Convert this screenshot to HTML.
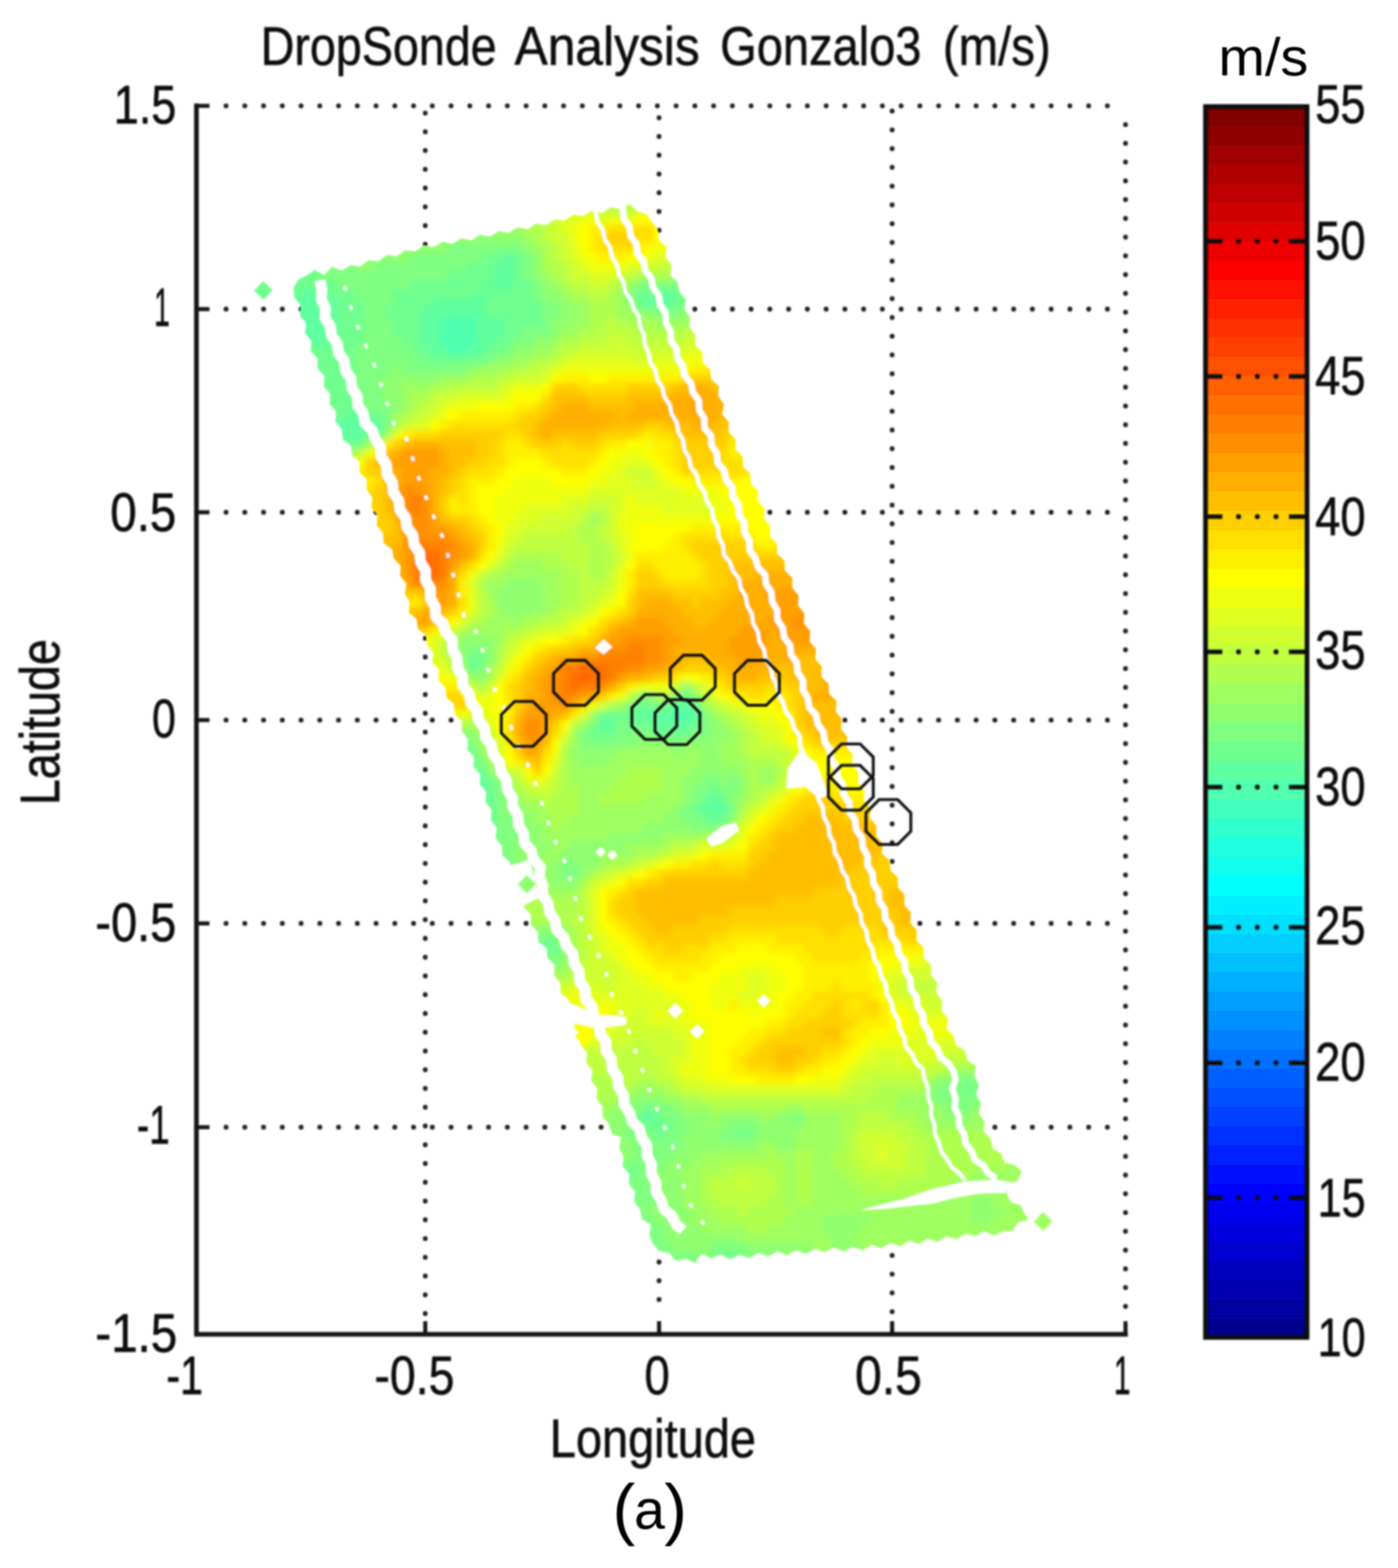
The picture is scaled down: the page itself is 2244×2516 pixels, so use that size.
<!DOCTYPE html>
<html lang="en"><head><meta charset="utf-8"><title>DropSonde Analysis Gonzalo3 (m/s)</title>
<style>
html,body{margin:0;padding:0;background:#fff;}
body{width:2244px;height:2516px;overflow:hidden;position:relative;}
svg{position:absolute;left:0;top:0;display:block;}
text{font-family:"Liberation Sans",sans-serif;font-size:80px;fill:#111;stroke:#111;stroke-width:0.9px;}
</style></head><body>
<svg width="2244" height="2516" viewBox="0 0 2244 2516">
<defs><filter id="b1" x="-5%" y="-5%" width="110%" height="110%"><feGaussianBlur stdDeviation="1.8"/></filter><filter id="b2" x="-20%" y="-20%" width="140%" height="140%"><feGaussianBlur stdDeviation="1.7"/></filter><filter id="b3" x="-20%" y="-20%" width="140%" height="140%"><feGaussianBlur stdDeviation="0.9"/></filter></defs>
<rect width="2244" height="2516" fill="#fff"/>
<g filter="url(#b1)" stroke="#222" fill="none">
<line x1="682.6" y1="181.3" x2="682.6" y2="2111.0" stroke-dasharray="0.1 30" stroke-linecap="round" stroke-width="7.8"/>
<line x1="1057.9" y1="188.8" x2="1057.9" y2="2111.0" stroke-dasharray="0.1 30" stroke-linecap="round" stroke-width="7.8"/>
<line x1="1432.0" y1="178.2" x2="1432.0" y2="2111.0" stroke-dasharray="0.1 30" stroke-linecap="round" stroke-width="7.8"/>
<line x1="1806.6" y1="199.8" x2="1806.6" y2="2111.0" stroke-dasharray="0.1 30" stroke-linecap="round" stroke-width="7.8"/>
<line x1="362.8" y1="169.8" x2="1806.6" y2="169.8" stroke-dasharray="0.1 30" stroke-linecap="round" stroke-width="7.8"/>
<line x1="362.8" y1="496.0" x2="1806.6" y2="496.0" stroke-dasharray="0.1 30" stroke-linecap="round" stroke-width="7.8"/>
<line x1="362.8" y1="822.0" x2="1806.6" y2="822.0" stroke-dasharray="0.1 30" stroke-linecap="round" stroke-width="7.8"/>
<line x1="362.8" y1="1155.4" x2="1806.6" y2="1155.4" stroke-dasharray="0.1 30" stroke-linecap="round" stroke-width="7.8"/>
<line x1="362.8" y1="1481.7" x2="1806.6" y2="1481.7" stroke-dasharray="0.1 30" stroke-linecap="round" stroke-width="7.8"/>
<line x1="362.8" y1="1808.7" x2="1806.6" y2="1808.7" stroke-dasharray="0.1 30" stroke-linecap="round" stroke-width="7.8"/>
</g>
<defs>
<clipPath id="sw"><polygon points="471.0,462.0 478.9,448.6 492.9,441.7 504.6,433.2 520.4,440.9 532.8,428.0 548.2,434.5 562.1,425.6 578.3,427.4 591.5,417.6 607.8,419.3 621.0,409.5 637.3,411.3 650.5,401.5 666.9,403.2 680.2,393.4 696.4,396.5 710.4,387.9 726.5,391.2 740.5,382.6 756.7,385.7 770.5,376.8 786.7,379.7 800.5,370.8 816.7,373.7 830.5,364.8 846.7,367.7 860.5,358.8 876.8,361.7 890.2,352.2 906.5,354.1 919.8,344.4 936.0,346.4 950.0,338.0 966.1,341.7 980.0,332.9 996.0,335.3 1010.7,327.5 1022.8,339.0 1037.9,343.9 1046.7,357.0 1056.1,369.1 1057.4,385.2 1069.6,396.2 1068.5,412.4 1077.9,425.4 1075.8,441.7 1087.8,452.6 1090.2,468.2 1100.9,480.0 1098.6,496.2 1107.9,509.3 1106.4,525.3 1116.3,537.9 1116.0,554.0 1127.4,565.5 1127.8,581.7 1139.5,592.8 1141.3,608.8 1153.8,619.4 1152.9,635.5 1161.8,648.8 1159.0,664.9 1169.9,677.1 1169.5,693.3 1180.5,705.2 1180.7,721.3 1191.9,732.9 1192.4,749.0 1204.2,760.2 1205.0,776.3 1216.5,787.7 1216.3,804.0 1227.4,815.9 1226.2,832.1 1236.3,844.6 1235.6,860.8 1247.0,872.4 1247.3,888.6 1259.0,899.8 1259.9,916.0 1271.7,927.1 1271.5,943.3 1281.8,955.6 1280.8,971.8 1291.2,984.2 1290.3,1000.3 1300.6,1012.7 1299.4,1028.9 1309.6,1041.4 1308.7,1057.5 1319.1,1069.8 1318.2,1086.1 1330.0,1097.4 1330.9,1113.5 1342.8,1124.8 1341.3,1141.2 1351.3,1153.9 1349.9,1170.0 1359.9,1182.6 1358.5,1198.8 1368.8,1211.2 1367.8,1227.4 1378.2,1239.8 1377.2,1255.9 1387.6,1268.3 1386.7,1284.4 1397.2,1296.7 1396.4,1312.9 1406.9,1325.1 1406.1,1341.3 1416.6,1353.6 1415.8,1369.9 1428.0,1380.8 1429.5,1396.8 1441.0,1408.1 1441.3,1424.2 1452.3,1436.1 1451.5,1452.3 1462.1,1464.5 1461.1,1480.7 1471.4,1493.1 1471.0,1509.2 1482.4,1520.8 1482.7,1536.9 1494.1,1548.4 1494.4,1564.5 1504.6,1576.9 1502.7,1593.0 1512.7,1605.8 1511.4,1621.9 1521.7,1634.5 1519.6,1650.8 1530.4,1662.1 1534.7,1677.3 1548.8,1685.4 1552.6,1701.2 1566.5,1710.5 1564.0,1726.5 1571.2,1740.7 1566.7,1756.3 1574.7,1770.4 1570.9,1786.2 1580.3,1799.5 1578.3,1815.8 1590.1,1826.8 1592.9,1842.7 1606.8,1850.7 1613.1,1865.8 1628.9,1869.6 1640.0,1880.0 1633.6,1894.2 1618.8,1902.1 1616.3,1915.8 1622.0,1928.8 1638.1,1933.4 1644.4,1947.8 1651.7,1957.1 1634.3,1960.9 1625.3,1975.1 1609.5,1975.6 1595.2,1982.5 1579.9,1975.5 1565.3,1983.6 1549.4,1979.2 1535.5,1988.5 1519.5,1983.5 1505.3,1992.4 1489.4,1987.4 1475.2,1996.1 1459.3,1990.9 1445.0,1999.6 1429.1,1994.4 1414.8,2003.0 1399.0,1997.7 1384.6,2006.3 1369.0,2000.6 1354.1,2008.0 1338.7,2001.3 1324.0,2009.2 1308.2,2003.7 1293.8,2012.1 1278.1,2006.1 1263.4,2013.9 1247.8,2007.8 1233.2,2015.7 1217.4,2010.2 1203.0,2018.8 1187.4,2013.3 1172.4,2020.7 1157.5,2013.0 1142.0,2019.3 1126.1,2011.7 1115.7,2026.5 1101.2,2019.9 1084.9,2023.0 1074.2,2010.5 1058.2,2007.4 1048.0,1995.6 1042.2,1981.4 1045.0,1964.9 1030.6,1956.2 1027.7,1940.9 1018.1,1928.5 1019.5,1912.4 1009.4,1899.9 1010.4,1883.7 999.3,1871.6 1001.0,1855.8 993.8,1841.8 997.2,1825.6 981.6,1818.4 977.5,1803.3 966.9,1791.6 967.6,1775.5 957.4,1763.0 958.8,1747.0 949.0,1734.1 951.1,1718.0 941.2,1705.2 942.2,1689.2 931.8,1676.8 932.5,1660.7 921.8,1648.5 922.5,1632.4 911.9,1620.2 912.5,1603.9 899.9,1593.2 899.2,1577.3 889.5,1564.8 890.5,1548.6 878.9,1537.2 877.3,1521.2 864.1,1511.3 863.4,1495.1 852.2,1483.5 852.2,1467.3 841.1,1455.4 842.2,1439.3 832.0,1426.7 833.2,1410.3 820.7,1399.7 818.6,1383.8 806.6,1373.1 805.5,1357.2 795.5,1344.8 797.4,1328.7 787.8,1315.8 789.2,1299.7 779.1,1287.1 780.5,1271.0 770.3,1258.5 770.8,1242.4 760.0,1230.4 760.5,1214.3 750.0,1201.9 751.4,1185.8 741.4,1173.3 741.6,1157.1 729.8,1146.0 728.9,1129.8 716.7,1119.1 715.1,1103.2 703.7,1091.7 704.7,1075.5 694.3,1063.1 695.5,1047.0 685.3,1034.7 683.7,1018.9 670.8,1009.0 668.5,993.0 655.9,982.4 657.9,966.4 649.6,952.7 652.5,936.7 642.2,924.1 643.3,907.9 632.3,896.4 629.2,880.9 615.7,871.5 615.0,855.4 604.8,843.1 605.9,827.1 596.1,814.3 598.0,798.2 588.5,785.4 588.7,769.3 577.4,757.8 576.9,741.6 565.2,730.6 563.1,714.6 550.0,704.9 548.8,688.9 538.5,676.7 539.5,660.6 529.1,648.2 530.1,632.1 519.7,619.7 520.7,603.5 509.7,591.6 509.8,575.4 498.8,563.5 500.0,547.3 489.9,534.7 491.3,518.6 481.2,506.0 482.6,489.9 472.5,477.2 471.0,462.0"/></clipPath>
<filter id="fb" x="-5%" y="-5%" width="110%" height="110%"><feGaussianBlur stdDeviation="5"/></filter>
</defs>
<g filter="url(#b1)">
<g clip-path="url(#sw)"><g filter="url(#fb)">
<path fill="#bfff40" d="M1005 300h15v15h-15zM945 315h75v15h-75zM870 330h15v15h-15zM960 330h60v15h-60zM855 345h30v15h-30zM870 360h15v15h-15zM870 375h15v15h-15zM885 390h15v15h-15zM885 405h15v15h-15zM900 420h15v15h-15zM1065 420h30v15h-30zM900 435h15v15h-15zM1005 435h15v15h-15zM915 450h30v15h-30zM975 450h15v15h-15zM945 465h30v15h-30zM975 510h15v15h-15zM960 525h60v15h-60zM1095 525h30v15h-30zM930 540h45v15h-45zM1005 540h90v15h-90zM900 555h30v15h-30zM885 570h15v15h-15zM840 585h30v15h-30zM795 600h30v15h-30zM720 615h75v15h-75zM690 630h15v15h-15zM675 645h15v15h-15zM660 660h15v15h-15zM570 720h15v15h-15zM945 810h30v15h-30zM930 825h15v15h-15zM915 840h15v15h-15zM960 840h15v15h-15zM840 855h90v15h-90zM960 855h15v15h-15zM825 870h120v15h-120zM975 870h15v15h-15zM810 885h15v15h-15zM900 885h45v15h-45zM975 885h15v15h-15zM795 900h15v15h-15zM915 900h30v15h-30zM975 900h15v15h-15zM930 915h15v15h-15zM930 930h45v15h-45zM765 945h15v15h-15zM930 945h30v15h-30zM765 960h15v15h-15zM930 960h15v15h-15zM765 975h15v15h-15zM900 975h30v15h-30zM750 990h15v15h-15zM870 990h30v15h-30zM840 1005h15v15h-15zM810 1020h15v15h-15zM705 1035h15v15h-15zM735 1080h15v15h-15zM1080 1095h15v15h-15zM1110 1095h15v15h-15zM1005 1110h15v15h-15zM1125 1110h15v15h-15zM1140 1125h15v15h-15zM1170 1140h15v15h-15zM720 1155h15v15h-15zM765 1155h15v15h-15zM915 1155h15v15h-15zM1185 1155h15v15h-15zM1200 1170h15v15h-15zM780 1185h15v15h-15zM900 1185h15v15h-15zM1200 1185h15v15h-15zM1200 1200h60v15h-60zM1245 1215h15v15h-15zM825 1245h15v15h-15zM885 1245h15v15h-15zM1245 1245h15v15h-15zM840 1260h15v15h-15zM885 1260h15v15h-15zM1230 1260h15v15h-15zM870 1275h15v15h-15zM1215 1275h15v15h-15zM1185 1305h15v15h-15zM1155 1335h15v15h-15zM1080 1350h30v15h-30zM1050 1365h15v15h-15zM1005 1380h15v15h-15zM960 1395h15v15h-15zM930 1425h15v15h-15zM930 1440h15v15h-15zM930 1455h15v15h-15zM915 1470h30v15h-30zM930 1485h15v15h-15zM930 1500h15v15h-15zM930 1515h15v15h-15zM930 1530h15v15h-15zM915 1560h15v15h-15zM885 1575h15v15h-15zM1470 1575h45v15h-45zM1020 1665h15v15h-15zM945 1680h15v15h-15zM975 1680h75v15h-75zM1560 1680h15v15h-15zM930 1695h135v15h-135zM1515 1695h45v15h-45zM930 1710h135v15h-135zM1485 1710h30v15h-30zM930 1725h15v15h-15zM975 1725h45v15h-45zM1050 1725h30v15h-30zM1395 1725h90v15h-90zM930 1740h15v15h-15zM1080 1740h15v15h-15zM1365 1740h45v15h-45zM1125 1755h270v15h-270zM1380 1785h45v15h-45zM1380 1800h75v15h-75zM1365 1815h15v15h-15zM1440 1815h30v15h-30zM1365 1830h15v15h-15zM1455 1830h30v15h-30zM1365 1845h15v15h-15zM1455 1845h30v15h-30zM1365 1860h30v15h-30zM1455 1860h30v15h-30zM1170 1875h60v15h-60zM1380 1875h105v15h-105zM1140 1890h45v15h-45zM1200 1890h45v15h-45zM1410 1890h30v15h-30zM1140 1905h105v15h-105zM1155 1920h75v15h-75zM1185 1935h15v15h-15z"/>
<path fill="#cfff30" d="M930 315h15v15h-15zM1020 315h30v15h-30zM885 330h75v15h-75zM885 345h15v15h-15zM885 360h15v15h-15zM885 375h30v15h-30zM900 390h15v15h-15zM900 405h15v15h-15zM1080 405h15v15h-15zM915 420h15v15h-15zM1035 420h30v15h-30zM915 435h30v15h-30zM990 435h15v15h-15zM945 450h30v15h-30zM1125 525h15v15h-15zM975 540h30v15h-30zM1095 540h30v15h-30zM930 555h165v15h-165zM900 570h15v15h-15zM1020 570h15v15h-15zM870 585h15v15h-15zM825 600h45v15h-45zM795 615h15v15h-15zM705 630h30v15h-30zM690 645h15v15h-15zM675 660h15v15h-15zM645 675h15v15h-15zM600 705h15v15h-15zM555 735h15v15h-15zM1005 750h45v15h-45zM1020 765h30v15h-30zM945 795h45v15h-45zM915 810h30v15h-30zM975 810h15v15h-15zM870 825h60v15h-60zM975 825h15v15h-15zM840 840h75v15h-75zM975 840h15v15h-15zM825 855h15v15h-15zM975 855h15v15h-15zM810 870h15v15h-15zM990 885h15v15h-15zM765 915h15v15h-15zM975 915h15v15h-15zM975 930h15v15h-15zM960 945h15v15h-15zM945 960h15v15h-15zM930 975h15v15h-15zM900 990h15v15h-15zM720 1005h15v15h-15zM855 1005h30v15h-30zM705 1020h15v15h-15zM825 1020h15v15h-15zM810 1035h15v15h-15zM705 1050h15v15h-15zM720 1065h15v15h-15zM795 1065h15v15h-15zM750 1095h15v15h-15zM780 1095h15v15h-15zM960 1125h15v15h-15zM1155 1125h15v15h-15zM1185 1140h15v15h-15zM1200 1155h15v15h-15zM780 1170h15v15h-15zM1215 1170h15v15h-15zM1215 1185h30v15h-30zM1260 1200h15v15h-15zM795 1215h15v15h-15zM1260 1215h15v15h-15zM810 1230h30v15h-30zM885 1230h15v15h-15zM1260 1230h15v15h-15zM1260 1245h15v15h-15zM855 1260h30v15h-30zM1245 1260h15v15h-15zM1200 1290h15v15h-15zM1170 1335h15v15h-15zM1110 1350h15v15h-15zM1065 1365h15v15h-15zM1020 1380h15v15h-15zM975 1395h15v15h-15zM945 1410h15v15h-15zM945 1500h15v15h-15zM945 1515h15v15h-15zM945 1530h30v15h-30zM930 1545h60v15h-60zM1485 1545h15v15h-15zM930 1560h60v15h-60zM1455 1560h60v15h-60zM900 1575h15v15h-15zM960 1575h30v15h-30zM1440 1575h30v15h-30zM1515 1575h15v15h-15zM885 1590h15v15h-15zM1440 1590h90v15h-90zM1485 1605h45v15h-45zM1020 1620h15v15h-15zM1005 1635h30v15h-30zM990 1650h90v15h-90zM975 1665h45v15h-45zM1035 1665h60v15h-60zM1545 1665h15v15h-15zM915 1680h30v15h-30zM960 1680h15v15h-15zM1050 1680h45v15h-45zM1515 1680h45v15h-45zM915 1695h15v15h-15zM1065 1695h15v15h-15zM1410 1695h30v15h-30zM1470 1695h15v15h-15zM1500 1695h15v15h-15zM1065 1710h15v15h-15zM1380 1710h105v15h-105zM1080 1725h15v15h-15zM1365 1725h30v15h-30zM1095 1740h45v15h-45zM1350 1740h15v15h-15zM1380 1815h60v15h-60zM1380 1830h30v15h-30zM1425 1830h30v15h-30zM1380 1845h30v15h-30zM1425 1845h30v15h-30zM1395 1860h60v15h-60zM1185 1890h15v15h-15z"/>
<path fill="#dfff20" d="M1020 330h30v15h-30zM900 345h30v15h-30zM960 345h15v15h-15zM900 360h15v15h-15zM915 390h15v15h-15zM1080 390h15v15h-15zM915 405h15v15h-15zM1050 405h30v15h-30zM930 420h15v15h-15zM1005 420h30v15h-30zM945 435h45v15h-45zM1125 540h15v15h-15zM1095 555h30v15h-30zM915 570h105v15h-105zM1035 570h60v15h-60zM885 585h15v15h-15zM870 600h15v15h-15zM810 615h15v15h-15zM735 630h75v15h-75zM705 645h15v15h-15zM690 660h15v15h-15zM660 675h30v15h-30zM1005 735h30v15h-30zM990 750h15v15h-15zM975 765h45v15h-45zM1050 765h15v15h-15zM945 780h150v15h-150zM900 795h45v15h-45zM990 795h15v15h-15zM1020 795h120v15h-120zM840 810h75v15h-75zM990 810h15v15h-15zM1065 810h75v15h-75zM825 825h45v15h-45zM810 840h30v15h-30zM810 855h15v15h-15zM990 855h15v15h-15zM990 870h15v15h-15zM795 885h15v15h-15zM780 900h15v15h-15zM990 900h15v15h-15zM750 930h15v15h-15zM750 945h15v15h-15zM975 945h15v15h-15zM960 960h15v15h-15zM750 975h15v15h-15zM945 975h15v15h-15zM735 990h15v15h-15zM915 990h15v15h-15zM885 1005h30v15h-30zM690 1020h15v15h-15zM840 1020h15v15h-15zM690 1035h15v15h-15zM825 1035h15v15h-15zM690 1050h15v15h-15zM810 1050h15v15h-15zM705 1065h15v15h-15zM795 1080h15v15h-15zM1125 1095h15v15h-15zM765 1110h15v15h-15zM1140 1110h15v15h-15zM1170 1125h15v15h-15zM750 1140h30v15h-30zM930 1140h15v15h-15zM1200 1140h15v15h-15zM780 1155h15v15h-15zM1215 1155h30v15h-30zM900 1170h15v15h-15zM1230 1170h30v15h-30zM795 1185h15v15h-15zM1245 1185h15v15h-15zM795 1200h15v15h-15zM885 1215h15v15h-15zM1275 1215h15v15h-15zM1275 1230h15v15h-15zM840 1245h15v15h-15zM870 1245h15v15h-15zM1230 1275h15v15h-15zM1215 1290h15v15h-15zM1200 1305h15v15h-15zM1185 1320h15v15h-15zM1125 1350h45v15h-45zM1080 1365h30v15h-30zM1035 1380h15v15h-15zM990 1395h15v15h-15zM960 1410h15v15h-15zM945 1425h15v15h-15zM945 1440h15v15h-15zM945 1455h15v15h-15zM945 1470h15v15h-15zM945 1485h15v15h-15zM960 1500h15v15h-15zM960 1515h15v15h-15zM975 1530h15v15h-15zM990 1545h15v15h-15zM1455 1545h30v15h-30zM1500 1545h15v15h-15zM990 1560h30v15h-30zM1200 1560h30v15h-30zM1425 1560h30v15h-30zM915 1575h45v15h-45zM990 1575h45v15h-45zM1200 1575h30v15h-30zM1425 1575h15v15h-15zM900 1590h15v15h-15zM945 1590h120v15h-120zM1185 1590h30v15h-30zM1425 1590h15v15h-15zM885 1605h15v15h-15zM990 1605h90v15h-90zM1455 1605h30v15h-30zM990 1620h30v15h-30zM1035 1620h15v15h-15zM1065 1620h15v15h-15zM1470 1620h75v15h-75zM990 1635h15v15h-15zM1035 1635h60v15h-60zM1530 1635h15v15h-15zM975 1650h15v15h-15zM1080 1650h30v15h-30zM1470 1650h15v15h-15zM1530 1650h15v15h-15zM915 1665h15v15h-15zM945 1665h30v15h-30zM1095 1665h15v15h-15zM1455 1665h90v15h-90zM1095 1680h15v15h-15zM1395 1680h120v15h-120zM1080 1695h30v15h-30zM1380 1695h30v15h-30zM1440 1695h30v15h-30zM1485 1695h15v15h-15zM1080 1710h15v15h-15zM1365 1710h15v15h-15zM1095 1725h30v15h-30zM1350 1725h15v15h-15zM1140 1740h210v15h-210zM1410 1830h15v15h-15zM1410 1845h15v15h-15z"/>
<path fill="#efff10" d="M1050 330h15v15h-15zM930 345h30v15h-30zM975 345h45v15h-45zM915 360h15v15h-15zM1065 360h15v15h-15zM915 375h15v15h-15zM1065 375h15v15h-15zM1050 390h30v15h-30zM930 405h15v15h-15zM1035 405h15v15h-15zM945 420h60v15h-60zM1125 555h15v15h-15zM1095 570h30v15h-30zM900 585h195v15h-195zM825 615h45v15h-45zM810 630h15v15h-15zM720 645h45v15h-45zM705 660h15v15h-15zM630 690h15v15h-15zM1035 705h15v15h-15zM585 720h15v15h-15zM990 720h45v15h-45zM975 735h30v15h-30zM1035 735h15v15h-15zM555 750h15v15h-15zM960 750h30v15h-30zM1050 750h15v15h-15zM825 765h60v15h-60zM945 765h30v15h-30zM1065 765h15v15h-15zM810 780h135v15h-135zM1095 780h60v15h-60zM795 795h105v15h-105zM1005 795h15v15h-15zM1140 795h30v15h-30zM795 810h45v15h-45zM1005 810h60v15h-60zM1140 810h30v15h-30zM795 825h30v15h-30zM990 825h165v15h-165zM990 840h30v15h-30zM795 855h15v15h-15zM1005 855h15v15h-15zM795 870h15v15h-15zM1005 870h15v15h-15zM1005 885h15v15h-15zM750 915h15v15h-15zM990 915h15v15h-15zM990 930h15v15h-15zM750 960h15v15h-15zM975 960h15v15h-15zM930 990h15v15h-15zM705 1005h15v15h-15zM915 1005h15v15h-15zM855 1020h15v15h-15zM675 1035h15v15h-15zM675 1050h15v15h-15zM690 1065h15v15h-15zM810 1065h15v15h-15zM720 1080h15v15h-15zM1095 1080h15v15h-15zM735 1095h15v15h-15zM1020 1095h60v15h-60zM780 1110h15v15h-15zM990 1110h15v15h-15zM765 1125h30v15h-30zM945 1125h15v15h-15zM1185 1125h15v15h-15zM705 1140h45v15h-45zM780 1140h15v15h-15zM1215 1140h30v15h-30zM1245 1155h15v15h-15zM795 1170h15v15h-15zM1260 1185h15v15h-15zM885 1200h15v15h-15zM1275 1200h15v15h-15zM1290 1215h15v15h-15zM1290 1230h15v15h-15zM855 1245h15v15h-15zM1275 1245h15v15h-15zM1260 1260h15v15h-15zM1245 1275h15v15h-15zM1230 1290h15v15h-15zM1185 1335h15v15h-15zM1170 1350h15v15h-15zM1110 1365h15v15h-15zM1050 1380h15v15h-15zM1005 1395h15v15h-15zM975 1410h15v15h-15zM960 1485h15v15h-15zM975 1500h15v15h-15zM975 1515h30v15h-30zM990 1530h15v15h-15zM1470 1530h45v15h-45zM1005 1545h15v15h-15zM1185 1545h60v15h-60zM1425 1545h30v15h-30zM1020 1560h30v15h-30zM1155 1560h45v15h-45zM1230 1560h30v15h-30zM1410 1560h15v15h-15zM1035 1575h30v15h-30zM1140 1575h60v15h-60zM1230 1575h30v15h-30zM1410 1575h15v15h-15zM915 1590h30v15h-30zM1065 1590h30v15h-30zM1140 1590h45v15h-45zM1215 1590h30v15h-30zM900 1605h30v15h-30zM945 1605h45v15h-45zM1080 1605h30v15h-30zM1140 1605h30v15h-30zM1185 1605h60v15h-60zM1425 1605h30v15h-30zM900 1620h30v15h-30zM975 1620h15v15h-15zM1050 1620h15v15h-15zM1080 1620h30v15h-30zM1200 1620h15v15h-15zM1455 1620h15v15h-15zM900 1635h30v15h-30zM960 1635h30v15h-30zM1095 1635h45v15h-45zM1455 1635h75v15h-75zM900 1650h30v15h-30zM945 1650h30v15h-30zM1110 1650h30v15h-30zM1425 1650h45v15h-45zM1485 1650h45v15h-45zM930 1665h15v15h-15zM1110 1665h30v15h-30zM1395 1665h60v15h-60zM1110 1680h30v15h-30zM1380 1680h15v15h-15zM1110 1695h30v15h-30zM1365 1695h15v15h-15zM1095 1710h45v15h-45zM1350 1710h15v15h-15zM1125 1725h45v15h-45zM1305 1725h45v15h-45z"/>
<path fill="#9fff60" d="M795 345h30v15h-30zM780 360h60v15h-60zM840 375h15v15h-15zM855 390h15v15h-15zM870 435h15v15h-15zM1080 435h30v15h-30zM885 450h15v15h-15zM1005 450h15v15h-15zM900 465h15v15h-15zM990 465h15v15h-15zM915 480h30v15h-30zM990 480h15v15h-15zM930 495h15v15h-15zM990 495h30v15h-30zM1110 495h15v15h-15zM915 510h30v15h-30zM1020 510h15v15h-15zM1050 510h60v15h-60zM900 525h30v15h-30zM885 540h15v15h-15zM855 555h30v15h-30zM825 570h30v15h-30zM765 585h45v15h-45zM705 600h45v15h-45zM645 615h45v15h-45zM645 630h15v15h-15zM645 645h15v15h-15zM630 660h15v15h-15zM615 690h15v15h-15zM585 705h15v15h-15zM540 720h30v15h-30zM945 825h15v15h-15zM825 900h45v15h-45zM810 915h90v15h-90zM780 930h30v15h-30zM870 930h30v15h-30zM780 945h15v15h-15zM870 945h30v15h-30zM870 960h30v15h-30zM795 975h15v15h-15zM855 975h30v15h-30zM780 990h60v15h-60zM750 1005h60v15h-60zM795 1020h15v15h-15zM720 1035h15v15h-15zM735 1065h15v15h-15zM780 1065h15v15h-15zM750 1080h15v15h-15zM990 1125h15v15h-15zM1125 1125h15v15h-15zM945 1140h15v15h-15zM1140 1140h15v15h-15zM930 1155h15v15h-15zM1155 1155h15v15h-15zM720 1170h15v15h-15zM765 1170h15v15h-15zM915 1170h15v15h-15zM1170 1170h15v15h-15zM765 1185h15v15h-15zM915 1185h15v15h-15zM1155 1185h30v15h-30zM990 1200h90v15h-90zM1095 1200h30v15h-30zM1155 1200h30v15h-30zM780 1215h15v15h-15zM915 1215h15v15h-15zM975 1215h150v15h-150zM1155 1215h45v15h-45zM915 1230h90v15h-90zM1065 1230h45v15h-45zM1185 1230h15v15h-15zM1215 1230h30v15h-30zM810 1245h15v15h-15zM915 1245h75v15h-75zM1065 1245h30v15h-30zM1215 1245h30v15h-30zM930 1260h45v15h-45zM1065 1260h30v15h-30zM825 1275h15v15h-15zM930 1275h30v15h-30zM1035 1275h60v15h-60zM1185 1275h15v15h-15zM840 1290h30v15h-30zM930 1290h150v15h-150zM855 1305h30v15h-30zM915 1305h150v15h-150zM870 1320h15v15h-15zM900 1320h135v15h-135zM870 1335h105v15h-105zM1065 1335h60v15h-60zM885 1350h30v15h-30zM1005 1350h60v15h-60zM870 1365h30v15h-30zM960 1365h60v15h-60zM870 1380h15v15h-15zM960 1380h15v15h-15zM855 1410h30v15h-30zM825 1425h105v15h-105zM825 1440h15v15h-15zM825 1455h15v15h-15zM825 1470h30v15h-30zM900 1485h15v15h-15zM900 1500h15v15h-15zM900 1545h15v15h-15zM870 1560h15v15h-15zM1530 1710h60v15h-60zM1020 1740h45v15h-45zM990 1755h15v15h-15zM1065 1755h30v15h-30zM1440 1755h45v15h-45zM960 1770h30v15h-30zM1095 1770h45v15h-45zM1260 1770h30v15h-30zM1440 1770h60v15h-60zM945 1785h30v15h-30zM1140 1785h15v15h-15zM1215 1785h30v15h-30zM1290 1785h60v15h-60zM1470 1785h45v15h-45zM1560 1785h45v15h-45zM945 1800h30v15h-30zM1290 1800h60v15h-60zM1485 1800h120v15h-120zM1275 1815h75v15h-75zM1215 1830h30v15h-30zM1275 1830h75v15h-75zM1125 1845h105v15h-105zM1245 1845h30v15h-30zM1305 1845h30v15h-30zM1110 1860h45v15h-45zM1260 1860h15v15h-15zM1305 1860h30v15h-30zM1620 1860h45v15h-45zM1095 1875h30v15h-30zM1260 1875h15v15h-15zM1305 1875h45v15h-45zM1560 1875h105v15h-105zM1095 1890h30v15h-30zM1260 1890h15v15h-15zM1305 1890h60v15h-60zM1530 1890h120v15h-120zM1095 1905h30v15h-30zM1260 1905h15v15h-15zM1305 1905h75v15h-75zM1500 1905h135v15h-135zM1095 1920h30v15h-30zM1260 1920h15v15h-15zM1305 1920h255v15h-255zM1590 1920h75v15h-75zM1110 1935h30v15h-30zM1275 1935h285v15h-285zM1605 1935h75v15h-75zM1110 1950h45v15h-45zM1260 1950h60v15h-60zM1395 1950h165v15h-165zM1590 1950h90v15h-90zM1125 1965h75v15h-75zM1230 1965h90v15h-90zM1380 1965h285v15h-285zM1185 1980h150v15h-150zM1365 1980h270v15h-270zM1305 1995h30v15h-30zM1380 1995h180v15h-180zM1380 2010h75v15h-75z"/>
<path fill="#afff50" d="M825 345h30v15h-30zM840 360h30v15h-30zM855 375h15v15h-15zM870 390h15v15h-15zM870 405h15v15h-15zM870 420h30v15h-30zM885 435h15v15h-15zM1020 435h60v15h-60zM900 450h15v15h-15zM990 450h15v15h-15zM915 465h30v15h-30zM975 465h15v15h-15zM945 480h45v15h-45zM945 495h45v15h-45zM945 510h30v15h-30zM990 510h30v15h-30zM1035 510h15v15h-15zM1110 510h15v15h-15zM930 525h30v15h-30zM1020 525h75v15h-75zM900 540h30v15h-30zM885 555h15v15h-15zM855 570h30v15h-30zM810 585h30v15h-30zM750 600h45v15h-45zM690 615h30v15h-30zM660 630h30v15h-30zM660 645h15v15h-15zM645 660h15v15h-15zM630 675h15v15h-15zM960 825h15v15h-15zM930 840h30v15h-30zM930 855h30v15h-30zM945 870h30v15h-30zM825 885h75v15h-75zM945 885h30v15h-30zM810 900h15v15h-15zM870 900h45v15h-45zM945 900h30v15h-30zM780 915h30v15h-30zM900 915h30v15h-30zM945 915h30v15h-30zM765 930h15v15h-15zM900 930h30v15h-30zM900 945h30v15h-30zM780 960h15v15h-15zM900 960h30v15h-30zM780 975h15v15h-15zM885 975h15v15h-15zM765 990h15v15h-15zM840 990h30v15h-30zM735 1005h15v15h-15zM810 1005h30v15h-30zM720 1020h15v15h-15zM795 1035h15v15h-15zM720 1050h15v15h-15zM795 1050h15v15h-15zM780 1080h15v15h-15zM765 1095h15v15h-15zM1050 1110h30v15h-30zM975 1125h15v15h-15zM1155 1140h15v15h-15zM735 1155h30v15h-30zM1170 1155h15v15h-15zM1185 1170h15v15h-15zM1185 1185h15v15h-15zM780 1200h15v15h-15zM900 1200h15v15h-15zM1185 1200h15v15h-15zM900 1215h15v15h-15zM1200 1215h45v15h-45zM795 1230h15v15h-15zM900 1230h15v15h-15zM1005 1230h60v15h-60zM1200 1230h15v15h-15zM1245 1230h15v15h-15zM900 1245h15v15h-15zM990 1245h75v15h-75zM1200 1245h15v15h-15zM825 1260h15v15h-15zM900 1260h30v15h-30zM975 1260h90v15h-90zM1200 1260h30v15h-30zM840 1275h30v15h-30zM885 1275h45v15h-45zM960 1275h75v15h-75zM1200 1275h15v15h-15zM870 1290h60v15h-60zM1185 1290h15v15h-15zM885 1305h30v15h-30zM885 1320h15v15h-15zM1170 1320h15v15h-15zM1125 1335h30v15h-30zM1065 1350h15v15h-15zM1020 1365h30v15h-30zM975 1380h30v15h-30zM945 1395h15v15h-15zM930 1410h15v15h-15zM840 1440h90v15h-90zM840 1455h90v15h-90zM855 1470h60v15h-60zM915 1485h15v15h-15zM915 1500h15v15h-15zM915 1515h15v15h-15zM915 1530h15v15h-15zM915 1545h15v15h-15zM885 1560h30v15h-30zM870 1575h15v15h-15zM1560 1695h30v15h-30zM1515 1710h15v15h-15zM945 1725h30v15h-30zM1020 1725h30v15h-30zM1485 1725h15v15h-15zM945 1740h75v15h-75zM1065 1740h15v15h-15zM1410 1740h75v15h-75zM930 1755h60v15h-60zM1095 1755h30v15h-30zM1395 1755h45v15h-45zM945 1770h15v15h-15zM1140 1770h120v15h-120zM1290 1770h150v15h-150zM1350 1785h30v15h-30zM1425 1785h45v15h-45zM1350 1800h30v15h-30zM1455 1800h30v15h-30zM1350 1815h15v15h-15zM1470 1815h135v15h-135zM1350 1830h15v15h-15zM1485 1830h135v15h-135zM1230 1845h15v15h-15zM1275 1845h30v15h-30zM1335 1845h30v15h-30zM1485 1845h150v15h-150zM1155 1860h105v15h-105zM1275 1860h30v15h-30zM1335 1860h30v15h-30zM1485 1860h135v15h-135zM1125 1875h45v15h-45zM1230 1875h30v15h-30zM1275 1875h30v15h-30zM1350 1875h30v15h-30zM1485 1875h75v15h-75zM1125 1890h15v15h-15zM1245 1890h15v15h-15zM1275 1890h30v15h-30zM1365 1890h45v15h-45zM1440 1890h90v15h-90zM1125 1905h15v15h-15zM1245 1905h15v15h-15zM1275 1905h30v15h-30zM1380 1905h120v15h-120zM1125 1920h30v15h-30zM1230 1920h30v15h-30zM1275 1920h30v15h-30zM1140 1935h45v15h-45zM1200 1935h75v15h-75zM1155 1950h105v15h-105zM1200 1965h30v15h-30z"/>
<path fill="#ffff00" d="M1020 345h45v15h-45zM930 360h15v15h-15zM1050 360h15v15h-15zM930 375h15v15h-15zM1050 375h15v15h-15zM930 390h15v15h-15zM1035 390h15v15h-15zM945 405h15v15h-15zM1005 405h30v15h-30zM1125 570h30v15h-30zM1095 585h15v15h-15zM885 600h15v15h-15zM945 600h30v15h-30zM870 615h15v15h-15zM825 630h45v15h-45zM765 645h60v15h-60zM720 660h15v15h-15zM690 675h15v15h-15zM1005 705h30v15h-30zM975 720h15v15h-15zM1035 720h15v15h-15zM570 735h15v15h-15zM825 735h45v15h-45zM960 735h15v15h-15zM1050 735h15v15h-15zM810 750h90v15h-90zM945 750h15v15h-15zM1065 750h15v15h-15zM555 765h15v15h-15zM795 765h30v15h-30zM885 765h60v15h-60zM1080 765h30v15h-30zM1185 765h45v15h-45zM765 780h45v15h-45zM1155 780h75v15h-75zM765 795h30v15h-30zM1170 795h75v15h-75zM765 810h30v15h-30zM1170 810h75v15h-75zM780 825h15v15h-15zM1155 825h105v15h-105zM795 840h15v15h-15zM1020 840h90v15h-90zM1200 840h60v15h-60zM1020 855h60v15h-60zM1215 855h30v15h-30zM1020 870h45v15h-45zM780 885h15v15h-15zM765 900h15v15h-15zM1005 900h15v15h-15zM990 945h15v15h-15zM990 960h15v15h-15zM960 975h15v15h-15zM720 990h15v15h-15zM945 990h15v15h-15zM930 1005h15v15h-15zM675 1020h15v15h-15zM870 1020h30v15h-30zM840 1035h15v15h-15zM825 1050h15v15h-15zM675 1065h15v15h-15zM675 1080h45v15h-45zM1110 1080h15v15h-15zM795 1095h15v15h-15zM1140 1095h15v15h-15zM750 1110h15v15h-15zM795 1110h15v15h-15zM1155 1110h15v15h-15zM750 1125h15v15h-15zM795 1125h15v15h-15zM1200 1125h45v15h-45zM795 1140h15v15h-15zM1245 1140h15v15h-15zM795 1155h15v15h-15zM900 1155h15v15h-15zM1260 1155h15v15h-15zM1260 1170h15v15h-15zM885 1185h15v15h-15zM1275 1185h15v15h-15zM810 1200h15v15h-15zM1290 1200h15v15h-15zM810 1215h15v15h-15zM1305 1215h90v15h-90zM840 1230h15v15h-15zM870 1230h15v15h-15zM1305 1230h90v15h-90zM1290 1245h15v15h-15zM1335 1245h75v15h-75zM1275 1260h15v15h-15zM1365 1260h45v15h-45zM1215 1305h15v15h-15zM1200 1320h15v15h-15zM1185 1350h15v15h-15zM1125 1365h15v15h-15zM1065 1380h15v15h-15zM1020 1395h15v15h-15zM990 1410h15v15h-15zM960 1425h15v15h-15zM960 1440h15v15h-15zM960 1455h15v15h-15zM960 1470h15v15h-15zM975 1485h15v15h-15zM990 1500h15v15h-15zM1005 1515h15v15h-15zM1185 1515h45v15h-45zM1485 1515h15v15h-15zM1005 1530h30v15h-30zM1155 1530h120v15h-120zM1410 1530h60v15h-60zM1020 1545h30v15h-30zM1140 1545h45v15h-45zM1245 1545h45v15h-45zM1395 1545h30v15h-30zM1050 1560h30v15h-30zM1110 1560h45v15h-45zM1260 1560h30v15h-30zM1395 1560h15v15h-15zM1065 1575h75v15h-75zM1260 1575h30v15h-30zM1095 1590h45v15h-45zM1245 1590h30v15h-30zM1410 1590h15v15h-15zM930 1605h15v15h-15zM1110 1605h30v15h-30zM1245 1605h15v15h-15zM930 1620h45v15h-45zM1110 1620h90v15h-90zM1215 1620h45v15h-45zM1425 1620h30v15h-30zM930 1635h30v15h-30zM1140 1635h90v15h-90zM1425 1635h30v15h-30zM930 1650h15v15h-15zM1140 1650h60v15h-60zM1395 1650h30v15h-30zM1140 1665h45v15h-45zM1380 1665h15v15h-15zM1140 1680h30v15h-30zM1365 1680h15v15h-15zM1140 1695h30v15h-30zM1350 1695h15v15h-15zM1140 1710h30v15h-30zM1320 1710h30v15h-30zM1170 1725h45v15h-45zM1275 1725h30v15h-30z"/>
<path fill="#8fff70" d="M720 360h60v15h-60zM645 375h195v15h-195zM585 390h135v15h-135zM840 390h15v15h-15zM555 405h105v15h-105zM855 405h15v15h-15zM570 420h30v15h-30zM855 420h15v15h-15zM855 435h15v15h-15zM870 450h15v15h-15zM1095 450h15v15h-15zM870 465h30v15h-30zM1110 465h15v15h-15zM885 480h30v15h-30zM1005 480h15v15h-15zM1110 480h15v15h-15zM900 495h30v15h-30zM1020 495h30v15h-30zM1095 495h15v15h-15zM885 510h30v15h-30zM885 525h15v15h-15zM855 540h30v15h-30zM825 555h30v15h-30zM795 570h30v15h-30zM630 585h15v15h-15zM750 585h15v15h-15zM615 600h90v15h-90zM615 615h30v15h-30zM615 630h30v15h-30zM630 645h15v15h-15zM810 930h60v15h-60zM795 945h75v15h-75zM795 960h75v15h-75zM810 975h45v15h-45zM735 1020h60v15h-60zM735 1035h15v15h-15zM780 1035h15v15h-15zM735 1050h15v15h-15zM780 1050h15v15h-15zM765 1080h15v15h-15zM1095 1095h15v15h-15zM1020 1110h30v15h-30zM1080 1110h15v15h-15zM1110 1110h15v15h-15zM1140 1155h15v15h-15zM735 1170h30v15h-30zM1140 1170h30v15h-30zM720 1185h15v15h-15zM1020 1185h60v15h-60zM1095 1185h60v15h-60zM765 1200h15v15h-15zM915 1200h75v15h-75zM1080 1200h15v15h-15zM1125 1200h30v15h-30zM930 1215h45v15h-45zM1125 1215h30v15h-30zM780 1230h15v15h-15zM1110 1230h75v15h-75zM795 1245h15v15h-15zM1095 1245h30v15h-30zM1155 1245h15v15h-15zM1185 1245h15v15h-15zM810 1260h15v15h-15zM1095 1260h15v15h-15zM1185 1260h15v15h-15zM810 1275h15v15h-15zM1095 1275h15v15h-15zM1170 1275h15v15h-15zM810 1290h30v15h-30zM1080 1290h15v15h-15zM825 1305h30v15h-30zM1065 1305h30v15h-30zM1170 1305h15v15h-15zM825 1320h45v15h-45zM1035 1320h75v15h-75zM1155 1320h15v15h-15zM840 1335h30v15h-30zM975 1335h90v15h-90zM825 1350h60v15h-60zM915 1350h90v15h-90zM825 1365h45v15h-45zM900 1365h60v15h-60zM825 1380h45v15h-45zM885 1380h15v15h-15zM930 1380h30v15h-30zM810 1395h90v15h-90zM930 1395h15v15h-15zM810 1410h45v15h-45zM885 1410h45v15h-45zM810 1425h15v15h-15zM840 1485h60v15h-60zM900 1515h15v15h-15zM900 1530h15v15h-15zM870 1545h30v15h-30zM1500 1725h30v15h-30zM1575 1725h15v15h-15zM1485 1740h15v15h-15zM1575 1740h15v15h-15zM1005 1755h60v15h-60zM1485 1755h15v15h-15zM1575 1755h15v15h-15zM990 1770h30v15h-30zM1080 1770h15v15h-15zM1500 1770h30v15h-30zM1560 1770h30v15h-30zM975 1785h30v15h-30zM1095 1785h45v15h-45zM1155 1785h60v15h-60zM1245 1785h30v15h-30zM1515 1785h45v15h-45zM975 1800h30v15h-30zM1110 1800h60v15h-60zM1215 1800h75v15h-75zM960 1815h45v15h-45zM1095 1815h60v15h-60zM1215 1815h60v15h-60zM975 1830h45v15h-45zM1095 1830h120v15h-120zM1245 1830h30v15h-30zM975 1845h45v15h-45zM1080 1845h45v15h-45zM1065 1860h45v15h-45zM1050 1875h45v15h-45zM1050 1890h45v15h-45zM1050 1905h45v15h-45zM1050 1920h45v15h-45zM1560 1920h30v15h-30zM1035 1935h75v15h-75zM1560 1935h45v15h-45zM1050 1950h60v15h-60zM1320 1950h75v15h-75zM1560 1950h30v15h-30zM1065 1965h60v15h-60zM1320 1965h60v15h-60zM1065 1980h120v15h-120zM1335 1980h30v15h-30zM1080 1995h60v15h-60zM1200 1995h105v15h-105zM1335 1995h45v15h-45zM1245 2010h135v15h-135z"/>
<path fill="#ffef00" d="M945 360h30v15h-30zM945 375h15v15h-15zM945 390h15v15h-15zM1020 390h15v15h-15zM960 405h45v15h-45zM1110 585h30v15h-30zM900 600h45v15h-45zM975 600h120v15h-120zM825 645h30v15h-30zM735 660h90v15h-90zM705 675h15v15h-15zM645 690h15v15h-15zM1035 690h15v15h-15zM615 705h15v15h-15zM810 705h30v15h-30zM975 705h30v15h-30zM1050 705h30v15h-30zM1170 705h30v15h-30zM600 720h15v15h-15zM810 720h60v15h-60zM960 720h15v15h-15zM1050 720h30v15h-30zM1170 720h45v15h-45zM810 735h15v15h-15zM870 735h15v15h-15zM945 735h15v15h-15zM1065 735h15v15h-15zM1200 735h15v15h-15zM570 750h15v15h-15zM795 750h15v15h-15zM900 750h45v15h-45zM1080 750h15v15h-15zM1200 750h30v15h-30zM570 765h30v15h-30zM750 765h45v15h-45zM1110 765h75v15h-75zM570 780h15v15h-15zM750 780h15v15h-15zM570 795h15v15h-15zM720 795h15v15h-15zM750 795h15v15h-15zM720 810h45v15h-45zM765 825h15v15h-15zM780 840h15v15h-15zM1110 840h90v15h-90zM780 855h15v15h-15zM1080 855h15v15h-15zM1200 855h15v15h-15zM1245 855h15v15h-15zM780 870h15v15h-15zM1065 870h30v15h-30zM1215 870h30v15h-30zM1020 885h90v15h-90zM1050 900h75v15h-75zM1005 915h15v15h-15zM1065 915h60v15h-60zM735 930h15v15h-15zM1005 930h15v15h-15zM735 945h15v15h-15zM660 960h15v15h-15zM735 975h15v15h-15zM975 975h15v15h-15zM690 1005h15v15h-15zM900 1020h15v15h-15zM660 1035h15v15h-15zM855 1035h15v15h-15zM840 1050h15v15h-15zM825 1065h15v15h-15zM810 1080h15v15h-15zM1080 1080h15v15h-15zM1125 1080h15v15h-15zM690 1095h45v15h-45zM1005 1095h15v15h-15zM690 1110h15v15h-15zM975 1110h15v15h-15zM1170 1110h30v15h-30zM1230 1110h30v15h-30zM705 1125h15v15h-15zM810 1125h15v15h-15zM1245 1125h15v15h-15zM810 1140h15v15h-15zM915 1140h15v15h-15zM1260 1140h15v15h-15zM810 1185h15v15h-15zM1305 1200h90v15h-90zM825 1215h15v15h-15zM870 1215h15v15h-15zM1305 1245h30v15h-30zM1290 1260h15v15h-15zM1335 1260h30v15h-30zM1260 1275h15v15h-15zM1365 1275h45v15h-45zM1245 1290h15v15h-15zM1230 1305h15v15h-15zM1215 1320h15v15h-15zM1200 1335h15v15h-15zM1140 1365h60v15h-60zM1080 1380h30v15h-30zM1035 1395h15v15h-15zM975 1425h15v15h-15zM975 1470h15v15h-15zM990 1485h15v15h-15zM1005 1500h15v15h-15zM1170 1500h75v15h-75zM1020 1515h15v15h-15zM1140 1515h45v15h-45zM1230 1515h60v15h-60zM1395 1515h90v15h-90zM1035 1530h15v15h-15zM1125 1530h30v15h-30zM1275 1530h30v15h-30zM1380 1530h30v15h-30zM1050 1545h90v15h-90zM1290 1545h105v15h-105zM1080 1560h30v15h-30zM1290 1560h105v15h-105zM1290 1575h45v15h-45zM1350 1575h60v15h-60zM1275 1590h30v15h-30zM1395 1590h15v15h-15zM1170 1605h15v15h-15zM1260 1605h30v15h-30zM1365 1605h15v15h-15zM1410 1605h15v15h-15zM1260 1620h15v15h-15zM1410 1620h15v15h-15zM1230 1635h30v15h-30zM1380 1635h45v15h-45zM1200 1650h30v15h-30zM1365 1650h30v15h-30zM1185 1665h30v15h-30zM1365 1665h15v15h-15zM1170 1680h30v15h-30zM1350 1680h15v15h-15zM1170 1695h15v15h-15zM1320 1695h30v15h-30zM1170 1710h30v15h-30zM1290 1710h30v15h-30zM1215 1725h60v15h-60z"/>
<path fill="#ffdf00" d="M975 360h75v15h-75zM960 375h15v15h-15zM1020 375h30v15h-30zM960 390h60v15h-60zM1140 585h15v15h-15zM1095 600h15v15h-15zM930 615h75v15h-75zM870 630h15v15h-15zM855 645h15v15h-15zM825 660h15v15h-15zM720 675h105v15h-105zM1185 675h15v15h-15zM660 690h45v15h-45zM810 690h30v15h-30zM1020 690h15v15h-15zM1050 690h30v15h-30zM1170 690h30v15h-30zM795 705h15v15h-15zM840 705h15v15h-15zM900 705h15v15h-15zM960 705h15v15h-15zM1080 705h15v15h-15zM795 720h15v15h-15zM870 720h90v15h-90zM1080 720h15v15h-15zM1155 720h15v15h-15zM780 735h30v15h-30zM885 735h60v15h-60zM1080 735h15v15h-15zM1155 735h45v15h-45zM750 750h45v15h-45zM1110 750h90v15h-90zM600 765h15v15h-15zM735 765h15v15h-15zM585 780h15v15h-15zM735 780h15v15h-15zM735 795h15v15h-15zM570 810h30v15h-30zM585 825h15v15h-15zM750 825h15v15h-15zM585 840h15v15h-15zM765 840h15v15h-15zM585 855h15v15h-15zM1095 855h105v15h-105zM1095 870h15v15h-15zM1200 870h15v15h-15zM1245 870h30v15h-30zM765 885h15v15h-15zM1110 885h15v15h-15zM750 900h15v15h-15zM1020 900h30v15h-30zM1125 900h15v15h-15zM735 915h15v15h-15zM1050 915h15v15h-15zM1125 915h15v15h-15zM1065 930h75v15h-75zM1005 945h15v15h-15zM645 960h15v15h-15zM735 960h15v15h-15zM990 975h15v15h-15zM705 990h15v15h-15zM960 990h15v15h-15zM945 1005h15v15h-15zM660 1020h15v15h-15zM915 1020h30v15h-30zM870 1035h15v15h-15zM825 1080h15v15h-15zM1140 1080h15v15h-15zM810 1095h15v15h-15zM1155 1095h15v15h-15zM1230 1095h30v15h-30zM705 1110h15v15h-15zM735 1110h15v15h-15zM810 1110h15v15h-15zM1200 1110h30v15h-30zM1260 1110h15v15h-15zM720 1125h15v15h-15zM930 1125h15v15h-15zM1260 1125h15v15h-15zM810 1155h15v15h-15zM810 1170h15v15h-15zM885 1170h15v15h-15zM1275 1170h15v15h-15zM1290 1185h15v15h-15zM1365 1185h15v15h-15zM870 1200h15v15h-15zM1305 1260h30v15h-30zM1275 1275h15v15h-15zM1335 1275h30v15h-30zM1260 1290h15v15h-15zM1365 1290h60v15h-60zM1245 1305h15v15h-15zM1230 1320h15v15h-15zM1215 1335h15v15h-15zM1200 1350h15v15h-15zM1110 1380h30v15h-30zM1155 1380h45v15h-45zM1050 1395h15v15h-15zM1005 1410h30v15h-30zM990 1425h15v15h-15zM975 1440h15v15h-15zM975 1455h15v15h-15zM990 1470h15v15h-15zM1005 1485h15v15h-15zM1170 1485h150v15h-150zM1350 1485h60v15h-60zM1020 1500h15v15h-15zM1140 1500h30v15h-30zM1245 1500h210v15h-210zM1470 1500h30v15h-30zM1035 1515h30v15h-30zM1095 1515h45v15h-45zM1290 1515h105v15h-105zM1050 1530h75v15h-75zM1305 1530h75v15h-75zM1335 1575h15v15h-15zM1305 1590h90v15h-90zM1290 1605h45v15h-45zM1350 1605h15v15h-15zM1380 1605h15v15h-15zM1275 1620h45v15h-45zM1350 1620h60v15h-60zM1260 1635h30v15h-30zM1365 1635h15v15h-15zM1230 1650h30v15h-30zM1350 1650h15v15h-15zM1215 1665h15v15h-15zM1350 1665h15v15h-15zM1200 1680h15v15h-15zM1320 1680h30v15h-30zM1185 1695h15v15h-15zM1305 1695h15v15h-15zM1200 1710h45v15h-45zM1275 1710h15v15h-15z"/>
<path fill="#ffcf00" d="M975 375h45v15h-45zM1110 600h60v15h-60zM885 615h45v15h-45zM1005 615h75v15h-75zM945 630h60v15h-60zM870 645h15v15h-15zM840 660h30v15h-30zM1170 660h15v15h-15zM825 675h30v15h-30zM1035 675h30v15h-30zM1170 675h15v15h-15zM705 690h105v15h-105zM840 690h15v15h-15zM960 690h60v15h-60zM1080 690h15v15h-15zM1155 690h15v15h-15zM630 705h15v15h-15zM765 705h30v15h-30zM855 705h45v15h-45zM915 705h45v15h-45zM1095 705h75v15h-75zM765 720h30v15h-30zM1095 720h60v15h-60zM585 735h15v15h-15zM750 735h30v15h-30zM1095 735h60v15h-60zM585 750h30v15h-30zM735 750h15v15h-15zM1095 750h15v15h-15zM720 765h15v15h-15zM600 780h15v15h-15zM720 780h15v15h-15zM585 795h30v15h-30zM705 795h15v15h-15zM600 810h15v15h-15zM705 810h15v15h-15zM600 825h30v15h-30zM720 825h30v15h-30zM600 840h30v15h-30zM750 840h15v15h-15zM600 855h15v15h-15zM765 855h15v15h-15zM600 870h15v15h-15zM765 870h15v15h-15zM1110 870h90v15h-90zM1125 885h150v15h-150zM1140 900h30v15h-30zM1020 915h30v15h-30zM1140 915h30v15h-30zM1020 930h45v15h-45zM1140 930h30v15h-30zM630 945h45v15h-45zM1080 945h75v15h-75zM630 960h15v15h-15zM675 960h15v15h-15zM1005 960h15v15h-15zM1110 960h15v15h-15zM630 975h30v15h-30zM720 975h15v15h-15zM1005 975h15v15h-15zM975 990h15v15h-15zM675 1005h15v15h-15zM960 1005h15v15h-15zM945 1020h15v15h-15zM885 1035h30v15h-30zM855 1050h15v15h-15zM840 1065h15v15h-15zM1095 1065h45v15h-45zM1050 1080h30v15h-30zM1155 1080h15v15h-15zM1245 1080h15v15h-15zM825 1095h15v15h-15zM990 1095h15v15h-15zM1170 1095h60v15h-60zM1260 1095h30v15h-30zM720 1110h15v15h-15zM825 1110h15v15h-15zM960 1110h15v15h-15zM1275 1110h15v15h-15zM735 1125h15v15h-15zM825 1125h15v15h-15zM1275 1125h15v15h-15zM1275 1140h15v15h-15zM885 1155h15v15h-15zM1275 1155h15v15h-15zM1290 1170h15v15h-15zM1365 1170h15v15h-15zM1305 1185h60v15h-60zM825 1200h15v15h-15zM840 1215h15v15h-15zM855 1230h15v15h-15zM1290 1275h45v15h-45zM1275 1290h90v15h-90zM1260 1305h30v15h-30zM1350 1305h75v15h-75zM1245 1320h30v15h-30zM1410 1320h15v15h-15zM1230 1335h15v15h-15zM1425 1335h15v15h-15zM1215 1350h30v15h-30zM1425 1350h15v15h-15zM1200 1365h30v15h-30zM1410 1365h30v15h-30zM1140 1380h15v15h-15zM1200 1380h15v15h-15zM1380 1380h75v15h-75zM1065 1395h135v15h-135zM1365 1395h90v15h-90zM1035 1410h30v15h-30zM1350 1410h120v15h-120zM1005 1425h15v15h-15zM1305 1425h120v15h-120zM1455 1425h15v15h-15zM990 1440h30v15h-30zM1245 1440h180v15h-180zM990 1455h30v15h-30zM1170 1455h270v15h-270zM1470 1455h15v15h-15zM1005 1470h30v15h-30zM1125 1470h315v15h-315zM1470 1470h15v15h-15zM1020 1485h30v15h-30zM1080 1485h90v15h-90zM1320 1485h30v15h-30zM1410 1485h75v15h-75zM1035 1500h105v15h-105zM1455 1500h15v15h-15zM1065 1515h30v15h-30zM1335 1605h15v15h-15zM1395 1605h15v15h-15zM1320 1620h30v15h-30zM1290 1635h75v15h-75zM1260 1650h60v15h-60zM1230 1665h120v15h-120zM1215 1680h30v15h-30zM1290 1680h30v15h-30zM1200 1695h45v15h-45zM1275 1695h30v15h-30zM1245 1710h30v15h-30z"/>
<path fill="#80ff80" d="M720 390h120v15h-120zM480 405h15v15h-15zM525 405h30v15h-30zM660 405h120v15h-120zM840 405h15v15h-15zM480 420h90v15h-90zM600 420h150v15h-150zM840 420h15v15h-15zM510 435h210v15h-210zM840 435h15v15h-15zM540 450h120v15h-120zM855 450h15v15h-15zM1020 450h75v15h-75zM570 465h60v15h-60zM855 465h15v15h-15zM1005 465h15v15h-15zM1095 465h15v15h-15zM585 480h45v15h-45zM870 480h15v15h-15zM1095 480h15v15h-15zM585 495h30v15h-30zM870 495h30v15h-30zM1050 495h45v15h-45zM585 510h45v15h-45zM870 510h15v15h-15zM585 525h45v15h-45zM840 525h45v15h-45zM585 540h60v15h-60zM825 540h30v15h-30zM570 555h90v15h-90zM810 555h15v15h-15zM570 570h105v15h-105zM780 570h15v15h-15zM570 585h60v15h-60zM645 585h105v15h-105zM570 600h45v15h-45zM570 615h45v15h-45zM585 630h30v15h-30zM585 645h45v15h-45zM615 660h15v15h-15zM615 675h15v15h-15zM525 705h15v15h-15zM750 1035h30v15h-30zM765 1065h15v15h-15zM1005 1125h15v15h-15zM1050 1125h15v15h-15zM1125 1140h15v15h-15zM945 1155h15v15h-15zM990 1155h15v15h-15zM1125 1155h15v15h-15zM930 1170h15v15h-15zM990 1170h60v15h-60zM1110 1170h30v15h-30zM735 1185h30v15h-30zM930 1185h90v15h-90zM1080 1185h15v15h-15zM765 1215h15v15h-15zM1125 1245h30v15h-30zM1170 1245h15v15h-15zM795 1260h15v15h-15zM1110 1260h30v15h-30zM1155 1260h30v15h-30zM795 1275h15v15h-15zM1110 1275h15v15h-15zM795 1290h15v15h-15zM1095 1290h15v15h-15zM1170 1290h15v15h-15zM795 1305h30v15h-30zM1095 1305h30v15h-30zM795 1320h30v15h-30zM1110 1320h45v15h-45zM795 1335h45v15h-45zM780 1350h45v15h-45zM780 1365h45v15h-45zM795 1380h30v15h-30zM900 1380h30v15h-30zM795 1395h15v15h-15zM900 1395h30v15h-30zM840 1500h30v15h-30zM885 1500h15v15h-15zM855 1530h45v15h-45zM1530 1725h45v15h-45zM1500 1740h45v15h-45zM1560 1740h15v15h-15zM1500 1755h75v15h-75zM1020 1770h15v15h-15zM1050 1770h30v15h-30zM1530 1770h30v15h-30zM1005 1785h15v15h-15zM1065 1785h30v15h-30zM1275 1785h15v15h-15zM1005 1800h15v15h-15zM1080 1800h30v15h-30zM1170 1800h45v15h-45zM1005 1815h45v15h-45zM1065 1815h30v15h-30zM1155 1815h30v15h-30zM1200 1815h15v15h-15zM1020 1830h75v15h-75zM1020 1845h60v15h-60zM975 1860h90v15h-90zM990 1875h15v15h-15zM1020 1875h30v15h-30zM990 1890h60v15h-60zM990 1905h60v15h-60zM1005 1920h45v15h-45zM1005 1935h30v15h-30zM1005 1950h45v15h-45zM1020 1965h45v15h-45zM1020 1980h45v15h-45zM1020 1995h60v15h-60zM1140 1995h60v15h-60zM1035 2010h120v15h-120zM1185 2010h60v15h-60zM1065 2025h75v15h-75zM1200 2025h75v15h-75zM1110 2040h15v15h-15z"/>
<path fill="#70ff8f" d="M780 405h30v15h-30zM825 405h15v15h-15zM465 420h15v15h-15zM750 420h45v15h-45zM825 420h15v15h-15zM465 435h45v15h-45zM720 435h75v15h-75zM825 435h15v15h-15zM450 450h90v15h-90zM660 450h120v15h-120zM825 450h30v15h-30zM450 465h30v15h-30zM510 465h60v15h-60zM630 465h135v15h-135zM780 465h75v15h-75zM1020 465h30v15h-30zM1080 465h15v15h-15zM540 480h45v15h-45zM630 480h60v15h-60zM780 480h90v15h-90zM1020 480h15v15h-15zM1050 480h15v15h-15zM1080 480h15v15h-15zM540 495h45v15h-45zM615 495h60v15h-60zM780 495h90v15h-90zM540 510h45v15h-45zM630 510h45v15h-45zM810 510h60v15h-60zM540 525h45v15h-45zM630 525h45v15h-45zM810 525h30v15h-30zM525 540h60v15h-60zM645 540h30v15h-30zM795 540h30v15h-30zM495 555h75v15h-75zM660 555h30v15h-30zM780 555h30v15h-30zM480 570h90v15h-90zM675 570h105v15h-105zM495 585h75v15h-75zM495 600h75v15h-75zM495 615h75v15h-75zM510 630h75v15h-75zM510 645h75v15h-75zM510 660h45v15h-45zM585 660h30v15h-30zM525 675h15v15h-15zM525 690h15v15h-15zM585 690h30v15h-30zM540 705h45v15h-45zM750 1050h30v15h-30zM750 1065h15v15h-15zM1095 1110h15v15h-15zM1020 1125h30v15h-30zM1065 1125h15v15h-15zM1110 1125h15v15h-15zM960 1140h60v15h-60zM1005 1155h45v15h-45zM1110 1155h15v15h-15zM945 1170h45v15h-45zM1050 1170h60v15h-60zM735 1200h30v15h-30zM735 1215h30v15h-30zM735 1230h45v15h-45zM780 1245h15v15h-15zM780 1260h15v15h-15zM1140 1260h15v15h-15zM780 1275h15v15h-15zM1125 1275h15v15h-15zM1155 1275h15v15h-15zM780 1290h15v15h-15zM1110 1290h15v15h-15zM765 1305h30v15h-30zM1125 1305h15v15h-15zM1155 1305h15v15h-15zM765 1320h30v15h-30zM780 1335h15v15h-15zM870 1500h15v15h-15zM855 1515h45v15h-45zM1545 1740h15v15h-15zM1035 1770h15v15h-15zM1020 1785h15v15h-15zM1050 1785h15v15h-15zM1020 1800h60v15h-60zM1050 1815h15v15h-15zM1185 1815h15v15h-15zM1005 1875h15v15h-15zM1155 2010h30v15h-30zM1140 2025h60v15h-60z"/>
<path fill="#60ff9f" d="M810 405h15v15h-15zM795 420h30v15h-30zM795 435h30v15h-30zM780 450h45v15h-45zM480 465h30v15h-30zM765 465h15v15h-15zM1050 465h30v15h-30zM450 480h90v15h-90zM690 480h90v15h-90zM1035 480h15v15h-15zM1065 480h15v15h-15zM465 495h75v15h-75zM675 495h105v15h-105zM465 510h75v15h-75zM675 510h30v15h-30zM765 510h45v15h-45zM465 525h75v15h-75zM675 525h30v15h-30zM765 525h45v15h-45zM480 540h45v15h-45zM675 540h30v15h-30zM765 540h30v15h-30zM480 555h15v15h-15zM690 555h30v15h-30zM750 555h30v15h-30zM555 660h30v15h-30zM540 675h75v15h-75zM540 690h45v15h-45zM1080 1125h30v15h-30zM1020 1140h60v15h-60zM1110 1140h15v15h-15zM960 1155h30v15h-30zM1050 1155h60v15h-60zM750 1245h30v15h-30zM750 1260h30v15h-30zM750 1275h30v15h-30zM1140 1275h15v15h-15zM765 1290h15v15h-15zM1125 1290h45v15h-45zM1140 1305h15v15h-15zM1035 1785h15v15h-15z"/>
<path fill="#50ffaf" d="M705 510h60v15h-60zM705 525h60v15h-60zM705 540h60v15h-60zM720 555h30v15h-30zM1080 1140h30v15h-30z"/>
<path fill="#ffbf00" d="M1080 615h30v15h-30zM1140 615h30v15h-30zM885 630h60v15h-60zM1005 630h75v15h-75zM1155 630h30v15h-30zM885 645h15v15h-15zM945 645h75v15h-75zM1170 645h15v15h-15zM870 660h15v15h-15zM990 660h15v15h-15zM1155 660h15v15h-15zM855 675h15v15h-15zM975 675h60v15h-60zM1065 675h45v15h-45zM1140 675h30v15h-30zM855 690h15v15h-15zM885 690h75v15h-75zM1095 690h60v15h-60zM645 705h15v15h-15zM705 705h60v15h-60zM615 720h15v15h-15zM720 720h45v15h-45zM600 735h15v15h-15zM720 735h30v15h-30zM615 750h15v15h-15zM720 750h15v15h-15zM615 765h15v15h-15zM705 765h15v15h-15zM615 780h15v15h-15zM705 780h15v15h-15zM615 795h15v15h-15zM615 810h15v15h-15zM705 825h15v15h-15zM630 840h15v15h-15zM735 840h15v15h-15zM615 855h30v15h-30zM750 855h15v15h-15zM615 870h15v15h-15zM600 885h30v15h-30zM615 900h15v15h-15zM735 900h15v15h-15zM1170 900h120v15h-120zM615 915h15v15h-15zM1170 915h45v15h-45zM630 930h15v15h-15zM1170 930h15v15h-15zM675 945h15v15h-15zM1020 945h60v15h-60zM1155 945h30v15h-30zM1020 960h15v15h-15zM1080 960h30v15h-30zM1125 960h45v15h-45zM660 975h15v15h-15zM705 975h15v15h-15zM1095 975h60v15h-60zM645 990h15v15h-15zM690 990h15v15h-15zM990 990h15v15h-15zM1110 990h30v15h-30zM645 1005h30v15h-30zM915 1035h15v15h-15zM870 1050h15v15h-15zM1095 1050h45v15h-45zM1275 1050h45v15h-45zM855 1065h15v15h-15zM1080 1065h15v15h-15zM1140 1065h30v15h-30zM1230 1065h90v15h-90zM840 1080h15v15h-15zM1035 1080h15v15h-15zM1170 1080h15v15h-15zM1215 1080h30v15h-30zM1260 1080h60v15h-60zM840 1095h15v15h-15zM1290 1095h30v15h-30zM1290 1110h15v15h-15zM1290 1125h75v15h-75zM825 1140h15v15h-15zM900 1140h15v15h-15zM1290 1140h75v15h-75zM1290 1155h90v15h-90zM1305 1170h60v15h-60zM825 1185h15v15h-15zM870 1185h15v15h-15zM855 1215h15v15h-15zM1290 1305h60v15h-60zM1275 1320h135v15h-135zM1245 1335h180v15h-180zM1245 1350h180v15h-180zM1230 1365h180v15h-180zM1215 1380h165v15h-165zM1200 1395h165v15h-165zM1065 1410h285v15h-285zM1020 1425h285v15h-285zM1425 1425h30v15h-30zM1020 1440h225v15h-225zM1425 1440h45v15h-45zM1020 1455h150v15h-150zM1440 1455h30v15h-30zM1035 1470h90v15h-90zM1440 1470h30v15h-30zM1050 1485h30v15h-30zM1320 1650h30v15h-30zM1245 1680h45v15h-45zM1245 1695h30v15h-30z"/>
<path fill="#ffaf00" d="M1110 615h30v15h-30zM1080 630h75v15h-75zM900 645h45v15h-45zM1020 645h90v15h-90zM1125 645h45v15h-45zM885 660h105v15h-105zM1005 660h150v15h-150zM870 675h105v15h-105zM1110 675h30v15h-30zM870 690h15v15h-15zM660 705h45v15h-45zM630 720h15v15h-15zM705 720h15v15h-15zM615 735h15v15h-15zM705 735h15v15h-15zM630 750h15v15h-15zM690 750h30v15h-30zM630 765h15v15h-15zM690 765h15v15h-15zM690 780h15v15h-15zM690 795h15v15h-15zM630 810h15v15h-15zM690 810h15v15h-15zM630 825h15v15h-15zM720 840h15v15h-15zM735 855h15v15h-15zM630 870h15v15h-15zM750 870h15v15h-15zM630 885h15v15h-15zM750 885h15v15h-15zM630 900h15v15h-15zM630 915h15v15h-15zM720 915h15v15h-15zM1215 915h75v15h-75zM645 930h15v15h-15zM720 930h15v15h-15zM1185 930h105v15h-105zM720 945h15v15h-15zM1185 945h45v15h-45zM690 960h15v15h-15zM720 960h15v15h-15zM1035 960h45v15h-45zM1170 960h75v15h-75zM675 975h30v15h-30zM1020 975h75v15h-75zM1155 975h90v15h-90zM660 990h15v15h-15zM1005 990h15v15h-15zM1065 990h45v15h-45zM1140 990h90v15h-90zM975 1005h15v15h-15zM1080 1005h105v15h-105zM1230 1005h15v15h-15zM960 1020h15v15h-15zM1095 1020h75v15h-75zM1230 1020h30v15h-30zM930 1035h30v15h-30zM1080 1035h90v15h-90zM1230 1035h105v15h-105zM885 1050h15v15h-15zM1080 1050h15v15h-15zM1140 1050h45v15h-45zM1215 1050h60v15h-60zM1320 1050h15v15h-15zM870 1065h15v15h-15zM1065 1065h15v15h-15zM1170 1065h60v15h-60zM1320 1065h15v15h-15zM855 1080h15v15h-15zM1005 1080h30v15h-30zM1185 1080h30v15h-30zM1320 1080h30v15h-30zM855 1095h15v15h-15zM975 1095h15v15h-15zM1320 1095h30v15h-30zM840 1110h30v15h-30zM945 1110h15v15h-15zM1305 1110h60v15h-60zM840 1125h15v15h-15zM915 1125h15v15h-15zM885 1140h15v15h-15zM825 1155h15v15h-15zM870 1155h15v15h-15zM825 1170h15v15h-15zM870 1170h15v15h-15zM855 1200h15v15h-15z"/>
<path fill="#ff9f00" d="M1110 645h15v15h-15zM645 720h60v15h-60zM630 735h75v15h-75zM645 750h45v15h-45zM645 765h45v15h-45zM630 780h15v15h-15zM675 780h15v15h-15zM630 795h15v15h-15zM645 825h15v15h-15zM690 825h15v15h-15zM645 840h15v15h-15zM690 840h30v15h-30zM645 855h15v15h-15zM720 855h15v15h-15zM645 870h15v15h-15zM735 870h15v15h-15zM645 885h15v15h-15zM735 885h15v15h-15zM645 900h15v15h-15zM720 900h15v15h-15zM645 915h15v15h-15zM690 945h30v15h-30zM1230 945h75v15h-75zM705 960h15v15h-15zM1245 960h60v15h-60zM1245 975h60v15h-60zM675 990h15v15h-15zM1020 990h45v15h-45zM1230 990h45v15h-45zM1290 990h30v15h-30zM990 1005h90v15h-90zM1185 1005h45v15h-45zM1245 1005h75v15h-75zM975 1020h30v15h-30zM1065 1020h30v15h-30zM1170 1020h60v15h-60zM1260 1020h60v15h-60zM960 1035h15v15h-15zM1065 1035h15v15h-15zM1170 1035h60v15h-60zM900 1050h30v15h-30zM1065 1050h15v15h-15zM1185 1050h30v15h-30zM885 1065h15v15h-15zM1035 1065h30v15h-30zM870 1080h15v15h-15zM990 1080h15v15h-15zM870 1095h15v15h-15zM870 1110h15v15h-15zM930 1110h15v15h-15zM855 1125h45v15h-45zM840 1140h45v15h-45zM840 1185h30v15h-30zM840 1200h15v15h-15z"/>
<path fill="#ff8f00" d="M645 780h30v15h-30zM645 795h15v15h-15zM675 795h15v15h-15zM645 810h15v15h-15zM675 810h15v15h-15zM660 825h30v15h-30zM660 840h30v15h-30zM660 855h60v15h-60zM660 870h15v15h-15zM720 870h15v15h-15zM660 885h15v15h-15zM720 885h15v15h-15zM660 930h60v15h-60zM1275 990h15v15h-15zM1005 1020h60v15h-60zM975 1035h30v15h-30zM1035 1035h30v15h-30zM930 1050h30v15h-30zM1035 1050h30v15h-30zM1005 1065h30v15h-30zM885 1080h15v15h-15zM885 1095h15v15h-15zM960 1095h15v15h-15zM885 1110h15v15h-15zM915 1110h15v15h-15zM900 1125h15v15h-15zM840 1155h30v15h-30zM840 1170h30v15h-30z"/>
<path fill="#ff8000" d="M660 795h15v15h-15zM660 810h15v15h-15zM675 870h45v15h-45zM705 885h15v15h-15zM660 900h15v15h-15zM705 900h15v15h-15zM660 915h30v15h-30zM705 915h15v15h-15zM1005 1035h30v15h-30zM960 1050h75v15h-75zM900 1065h30v15h-30zM975 1065h30v15h-30zM900 1080h15v15h-15zM975 1080h15v15h-15zM900 1095h15v15h-15zM930 1095h30v15h-30zM900 1110h15v15h-15z"/>
<path fill="#ff7000" d="M675 885h30v15h-30zM675 900h30v15h-30zM690 915h15v15h-15zM930 1065h45v15h-45zM915 1080h15v15h-15zM945 1080h30v15h-30zM915 1095h15v15h-15z"/>
<path fill="#ff6000" d="M930 1080h15v15h-15z"/>
</g></g>
<polyline points="513.2,450.0 516.7,464.7 515.6,480.2 522.5,494.2 521.5,509.9 530.1,522.9 532.0,538.4 541.3,550.8 543.3,566.3 552.7,578.8 554.4,594.3 563.3,607.1 564.5,622.6 573.3,635.5 574.6,651.0 583.5,663.8 585.8,679.3 597.5,689.9 602.2,704.4 610.7,717.2 611.7,732.8 620.3,745.8 621.3,761.4 629.9,774.3 631.3,789.9 640.1,802.7 641.7,818.2 651.1,830.7 653.2,846.1 662.6,858.5 664.6,874.0 673.5,886.7 675.0,902.2 683.1,915.4 683.1,931.0 690.9,944.6 690.9,960.2 698.6,973.7 699.3,989.5 710.8,1000.2 715.9,1014.8 726.1,1026.6 726.2,1042.4 734.1,1055.8 734.4,1071.4 742.5,1084.7 743.2,1100.4 752.9,1112.7 755.9,1127.9 765.9,1139.9 768.0,1155.4 777.3,1167.9 779.3,1183.4 788.9,1195.6 791.7,1210.9 801.4,1223.1 803.8,1238.4 812.8,1251.1 814.0,1266.7 822.6,1279.7 823.3,1295.3 831.6,1308.5 832.2,1324.1 840.4,1337.3 841.8,1352.9 852.5,1364.4 856.6,1379.3 867.5,1390.8 865.7,1406.3 871.5,1420.6 870.8,1436.2 879.8,1449.0 882.1,1464.4 891.1,1477.0 893.7,1492.4 904.9,1503.3 909.3,1518.2 919.6,1529.9 921.2,1545.5 929.6,1558.5 930.6,1574.1 939.1,1587.1 940.1,1602.8 950.1,1614.9 952.6,1630.3 961.9,1642.8 963.5,1658.3 972.3,1671.2 973.1,1686.8 981.6,1699.8 982.8,1715.4 991.7,1728.2 992.8,1743.7 1001.1,1756.9 1001.7,1772.6 1010.7,1785.1 1014.7,1800.1 1026.2,1810.7 1030.1,1825.7 1038.7,1838.5 1038.5,1854.1 1045.9,1867.9 1045.4,1883.5 1052.9,1897.1 1053.1,1912.7 1061.3,1925.7 1065.7,1940.5 1077.9,1950.2 1084.7,1964.2 1096.3,1974.0" fill="none" stroke="#fff" stroke-width="16.9" stroke-linejoin="round" />
<polyline points="949.0,328.0 956.2,341.3 959.2,356.4 967.8,369.1 970.8,384.2 979.3,396.9 982.3,412.0 990.5,424.9 993.0,440.1 1001.0,453.2 1003.5,468.4 1012.7,480.7 1016.8,495.5 1026.2,507.8 1027.1,523.3 1033.8,537.1 1034.7,552.5 1041.3,566.2 1043.6,581.3 1052.0,594.2 1054.9,609.3 1063.4,622.1 1066.5,637.1 1075.1,649.8 1078.2,664.8 1086.3,677.8 1088.8,693.0 1096.6,706.2 1098.5,721.4 1106.1,734.7 1109.1,749.7 1118.2,762.1 1122.0,777.0 1130.9,789.4 1134.3,804.4 1143.2,817.0 1144.8,832.4 1152.1,845.9 1153.5,861.2 1160.6,874.8 1162.0,890.3 1171.8,902.2 1176.8,916.6 1186.4,928.6 1189.0,943.8 1197.1,956.9 1199.4,972.0 1207.0,985.3 1208.9,1000.6 1216.6,1013.9 1218.7,1029.1 1226.4,1042.3 1228.9,1057.5 1237.1,1070.5 1239.6,1085.6 1247.3,1098.8 1249.3,1114.1 1257.2,1127.1 1261.3,1141.9 1270.7,1154.0 1274.7,1168.8 1283.8,1181.3 1283.8,1196.9 1290.6,1210.6 1292.9,1225.7 1300.9,1238.8 1303.2,1254.0 1311.2,1267.1 1313.5,1282.3 1320.8,1295.7 1322.4,1311.0 1329.7,1324.5 1331.2,1339.8 1338.5,1353.3 1340.0,1368.7 1348.4,1381.6 1351.4,1396.6 1360.0,1409.4 1362.7,1424.5 1370.9,1437.5 1373.6,1452.6 1381.3,1465.8 1383.2,1481.1 1390.9,1494.4 1392.9,1509.6 1400.6,1522.9 1402.8,1538.1 1411.3,1550.9 1414.2,1565.9 1421.7,1579.3 1423.3,1594.6 1431.0,1607.9 1433.5,1623.0 1441.7,1636.0 1443.9,1651.2 1451.6,1664.5 1453.7,1679.9 1464.2,1691.1 1470.4,1705.1 1481.6,1715.8 1483.9,1730.8 1489.6,1744.9 1489.6,1760.2 1495.0,1774.6 1494.3,1790.0 1500.0,1804.2 1500.6,1819.5 1507.0,1833.3 1510.9,1847.9 1520.1,1860.0 1527.7,1873.1 1539.9,1882.3 1549.5,1894.0" fill="none" stroke="#fff" stroke-width="6" stroke-linejoin="round" />
<polyline points="993.0,322.0 999.9,335.5 1001.2,351.0 1010.3,363.6 1012.2,379.0 1021.5,391.5 1023.3,407.0 1033.0,419.2 1035.7,434.5 1045.6,446.4 1048.1,461.7 1057.5,474.1 1059.5,489.5 1068.6,502.2 1068.7,517.8 1076.5,531.2 1077.0,546.8 1085.9,559.6 1087.3,575.1 1096.2,587.7 1098.8,603.0 1109.1,614.7 1112.2,629.9 1121.7,642.2 1122.2,657.8 1130.4,671.1 1130.9,686.8 1141.1,698.7 1142.2,714.3 1150.6,727.3 1151.8,742.9 1162.3,754.6 1165.5,769.7 1175.1,781.9 1176.7,797.4 1185.6,810.2 1186.2,825.8 1194.5,839.0 1195.1,854.5 1203.1,867.8 1203.4,883.4 1212.6,895.8 1216.7,910.6 1227.9,921.7 1229.6,937.2 1238.3,950.1 1239.4,965.5 1247.4,978.8 1247.7,994.4 1256.4,1007.3 1258.6,1022.6 1268.1,1034.9 1269.7,1050.4 1278.8,1063.0 1280.4,1078.5 1288.8,1091.5 1288.9,1107.1 1296.6,1120.4 1299.0,1135.6 1309.8,1147.0 1312.7,1162.2 1321.9,1174.7 1323.5,1190.1 1332.4,1202.9 1333.7,1218.4 1342.6,1231.1 1344.0,1246.6 1352.9,1259.4 1354.3,1274.8 1363.0,1287.7 1364.0,1303.2 1372.6,1316.1 1374.3,1331.6 1383.5,1344.1 1384.9,1359.5 1392.6,1372.9 1392.6,1388.5 1400.7,1401.8 1401.7,1417.2 1410.3,1430.2 1411.3,1445.7 1419.9,1458.7 1420.9,1474.2 1429.8,1487.0 1431.5,1502.4 1440.6,1515.0 1442.6,1530.4 1452.0,1542.8 1453.1,1558.4 1461.3,1571.5 1462.1,1587.1 1471.3,1599.7 1472.9,1615.1 1481.4,1628.1 1482.4,1643.6 1491.8,1656.1 1493.9,1671.7 1505.0,1682.6 1509.9,1697.4 1522.3,1706.4 1530.6,1718.3 1533.7,1732.3 1528.4,1747.1 1533.8,1761.7 1532.3,1777.2 1539.2,1791.0 1539.6,1806.5 1547.5,1819.7 1549.6,1835.0 1559.6,1846.8 1565.0,1861.1 1578.0,1869.7 1586.2,1882.8 1599.0,1891.0" fill="none" stroke="#fff" stroke-width="10" stroke-linejoin="round" />
<polyline points="553.0,459.0 570.0,514.0 603.0,591.0 633.0,682.0 651.0,700.0 673.0,769.0 690.0,815.0 712.0,865.0 723.0,906.0 734.0,947.0 745.0,988.5 769.5,1021.0 778.0,1057.0 794.0,1106.6 811.0,1140.0 829.0,1191.0 854.0,1240.6 865.0,1273.6 876.0,1309.0 890.0,1348.0 903.6,1378.0 917.0,1397.0 914.6,1411.0 923.0,1438.5 934.0,1480.0 953.0,1515.0 964.0,1540.0 975.0,1567.6 983.0,1600.5 1000.0,1631.0 1009.6,1655.0 1023.0,1696.0 1037.0,1732.0 1048.0,1765.0 1062.0,1798.0 1075.6,1828.0 1086.5,1861.0 1095.0,1896.7 1106.0,1929.7 1122.0,1954.0 1138.7,1973.6" fill="none" stroke="#fff" stroke-width="5" stroke-linejoin="round" stroke-dasharray="7 26"/>
<polygon points="1285.0,1205.0 1265.0,1232.0 1262.0,1265.0 1293.0,1262.0 1315.0,1282.0 1330.0,1275.0 1310.0,1225.0" fill="#fff"/>
<polygon points="1379.0,1942.0 1450.0,1924.0 1497.0,1908.0 1549.0,1896.0 1600.0,1893.0 1628.0,1898.0 1614.0,1914.0 1571.0,1915.0 1533.0,1922.0 1497.0,1931.0 1415.0,1940.0" fill="#fff"/>
<polygon points="1134.0,1345.0 1160.0,1325.0 1181.0,1320.0 1186.0,1332.0 1160.0,1352.0 1142.0,1358.0" fill="#fff"/>
<polygon points="955.0,1040.0 969.0,1026.0 983.0,1038.0 969.0,1050.0" fill="#fff"/>
<polygon points="1072.0,1622.0 1084.0,1610.0 1096.0,1622.0 1084.0,1634.0" fill="#fff"/>
<polygon points="1108.0,1655.0 1119.0,1644.0 1130.0,1655.0 1119.0,1666.0" fill="#fff"/>
<polygon points="1216.0,1606.0 1226.0,1596.0 1236.0,1606.0 1226.0,1616.0" fill="#fff"/>
<polygon points="956.0,1367.0 964.0,1359.0 972.0,1367.0 964.0,1375.0" fill="#fff"/>
<polygon points="975.0,1372.0 983.0,1364.0 991.0,1372.0 983.0,1380.0" fill="#fff"/>
<polygon points="905.0,1606.0 960.0,1628.0 1005.0,1632.0 1005.0,1644.0 960.0,1650.0 915.0,1640.0" fill="#fff"/>
<polygon points="808.0,1392.0 850.0,1380.0 866.0,1440.0 834.0,1456.0" fill="#fff"/>
<polygon points="422.6,451.0 437.6,466.0 422.6,481.0 407.6,466.0" fill="#70ff8f"/>
<polygon points="845.6,1404.0 860.6,1419.0 845.6,1434.0 830.6,1419.0" fill="#8fff70"/>
<polygon points="1674.5,1945.0 1689.5,1960.0 1674.5,1975.0 1659.5,1960.0" fill="#9fff60"/>
<polygon points="938.0,1648.0 953.0,1663.0 938.0,1678.0 923.0,1663.0" fill="#ffff00"/>
</g>
<g filter="url(#b1)" fill="none" stroke="#111" stroke-width="4.6" stroke-linejoin="miter">
<polygon points="876.7,1176.4 855.6,1197.5 825.8,1197.5 804.7,1176.4 804.7,1146.6 825.8,1125.5 855.6,1125.5 876.7,1146.6"/>
<polygon points="960.5,1110.5 939.4,1131.6 909.6,1131.6 888.5,1110.5 888.5,1080.7 909.6,1059.6 939.4,1059.6 960.5,1080.7"/>
<polygon points="1148.0,1102.3 1126.9,1123.4 1097.1,1123.4 1076.0,1102.3 1076.0,1072.5 1097.1,1051.4 1126.9,1051.4 1148.0,1072.5"/>
<polygon points="1251.0,1110.5 1229.9,1131.6 1200.1,1131.6 1179.0,1110.5 1179.0,1080.7 1200.1,1059.6 1229.9,1059.6 1251.0,1080.7"/>
<polygon points="1086.3,1165.4 1065.2,1186.5 1035.4,1186.5 1014.3,1165.4 1014.3,1135.6 1035.4,1114.5 1065.2,1114.5 1086.3,1135.6"/>
<polygon points="1123.4,1173.7 1102.3,1194.8 1072.5,1194.8 1051.4,1173.7 1051.4,1143.9 1072.5,1122.8 1102.3,1122.8 1123.4,1143.9"/>
<polygon points="1401.7,1244.6 1380.6,1265.7 1350.8,1265.7 1329.7,1244.6 1329.7,1214.8 1350.8,1193.7 1380.6,1193.7 1401.7,1214.8"/>
<polygon points="1401.7,1278.9 1380.6,1300.0 1350.8,1300.0 1329.7,1278.9 1329.7,1249.1 1350.8,1228.0 1380.6,1228.0 1401.7,1249.1"/>
<polygon points="1462.0,1333.9 1440.9,1355.0 1411.1,1355.0 1390.0,1333.9 1390.0,1304.1 1411.1,1283.0 1440.9,1283.0 1462.0,1304.1"/>
</g>
<g filter="url(#b1)" stroke="#161616" fill="none">
<path d="M315.3 166.05 V2141.0 H1810.35" stroke-width="7.5"/>
<line x1="682.6" y1="2141.0" x2="682.6" y2="2120.0" stroke-width="6.5"/>
<line x1="1057.9" y1="2141.0" x2="1057.9" y2="2120.0" stroke-width="6.5"/>
<line x1="1432.0" y1="2141.0" x2="1432.0" y2="2120.0" stroke-width="6.5"/>
<line x1="1806.6" y1="2141.0" x2="1806.6" y2="2120.0" stroke-width="6.5"/>
<line x1="315.3" y1="169.8" x2="336.3" y2="169.8" stroke-width="6.5"/>
<line x1="315.3" y1="496.0" x2="336.3" y2="496.0" stroke-width="6.5"/>
<line x1="315.3" y1="822.0" x2="336.3" y2="822.0" stroke-width="6.5"/>
<line x1="315.3" y1="1155.4" x2="336.3" y2="1155.4" stroke-width="6.5"/>
<line x1="315.3" y1="1481.7" x2="336.3" y2="1481.7" stroke-width="6.5"/>
<line x1="315.3" y1="1808.7" x2="336.3" y2="1808.7" stroke-width="6.5"/>
</g>
<g>
<rect x="1935.0" y="2115.14" width="163.0" height="31.46" fill="#00008f"/>
<rect x="1935.0" y="2084.28" width="163.0" height="31.46" fill="#00009f"/>
<rect x="1935.0" y="2053.42" width="163.0" height="31.46" fill="#0000af"/>
<rect x="1935.0" y="2022.56" width="163.0" height="31.46" fill="#0000bf"/>
<rect x="1935.0" y="1991.70" width="163.0" height="31.46" fill="#0000cf"/>
<rect x="1935.0" y="1960.84" width="163.0" height="31.46" fill="#0000df"/>
<rect x="1935.0" y="1929.98" width="163.0" height="31.46" fill="#0000ef"/>
<rect x="1935.0" y="1899.12" width="163.0" height="31.46" fill="#0000ff"/>
<rect x="1935.0" y="1868.27" width="163.0" height="31.46" fill="#0010ff"/>
<rect x="1935.0" y="1837.41" width="163.0" height="31.46" fill="#0020ff"/>
<rect x="1935.0" y="1806.55" width="163.0" height="31.46" fill="#0030ff"/>
<rect x="1935.0" y="1775.69" width="163.0" height="31.46" fill="#0040ff"/>
<rect x="1935.0" y="1744.83" width="163.0" height="31.46" fill="#0050ff"/>
<rect x="1935.0" y="1713.97" width="163.0" height="31.46" fill="#0060ff"/>
<rect x="1935.0" y="1683.11" width="163.0" height="31.46" fill="#0070ff"/>
<rect x="1935.0" y="1652.25" width="163.0" height="31.46" fill="#0080ff"/>
<rect x="1935.0" y="1621.39" width="163.0" height="31.46" fill="#008fff"/>
<rect x="1935.0" y="1590.53" width="163.0" height="31.46" fill="#009fff"/>
<rect x="1935.0" y="1559.67" width="163.0" height="31.46" fill="#00afff"/>
<rect x="1935.0" y="1528.81" width="163.0" height="31.46" fill="#00bfff"/>
<rect x="1935.0" y="1497.95" width="163.0" height="31.46" fill="#00cfff"/>
<rect x="1935.0" y="1467.09" width="163.0" height="31.46" fill="#00dfff"/>
<rect x="1935.0" y="1436.23" width="163.0" height="31.46" fill="#00efff"/>
<rect x="1935.0" y="1405.38" width="163.0" height="31.46" fill="#00ffff"/>
<rect x="1935.0" y="1374.52" width="163.0" height="31.46" fill="#10ffef"/>
<rect x="1935.0" y="1343.66" width="163.0" height="31.46" fill="#20ffdf"/>
<rect x="1935.0" y="1312.80" width="163.0" height="31.46" fill="#30ffcf"/>
<rect x="1935.0" y="1281.94" width="163.0" height="31.46" fill="#40ffbf"/>
<rect x="1935.0" y="1251.08" width="163.0" height="31.46" fill="#50ffaf"/>
<rect x="1935.0" y="1220.22" width="163.0" height="31.46" fill="#60ff9f"/>
<rect x="1935.0" y="1189.36" width="163.0" height="31.46" fill="#70ff8f"/>
<rect x="1935.0" y="1158.50" width="163.0" height="31.46" fill="#80ff80"/>
<rect x="1935.0" y="1127.64" width="163.0" height="31.46" fill="#8fff70"/>
<rect x="1935.0" y="1096.78" width="163.0" height="31.46" fill="#9fff60"/>
<rect x="1935.0" y="1065.92" width="163.0" height="31.46" fill="#afff50"/>
<rect x="1935.0" y="1035.06" width="163.0" height="31.46" fill="#bfff40"/>
<rect x="1935.0" y="1004.20" width="163.0" height="31.46" fill="#cfff30"/>
<rect x="1935.0" y="973.34" width="163.0" height="31.46" fill="#dfff20"/>
<rect x="1935.0" y="942.48" width="163.0" height="31.46" fill="#efff10"/>
<rect x="1935.0" y="911.62" width="163.0" height="31.46" fill="#ffff00"/>
<rect x="1935.0" y="880.77" width="163.0" height="31.46" fill="#ffef00"/>
<rect x="1935.0" y="849.91" width="163.0" height="31.46" fill="#ffdf00"/>
<rect x="1935.0" y="819.05" width="163.0" height="31.46" fill="#ffcf00"/>
<rect x="1935.0" y="788.19" width="163.0" height="31.46" fill="#ffbf00"/>
<rect x="1935.0" y="757.33" width="163.0" height="31.46" fill="#ffaf00"/>
<rect x="1935.0" y="726.47" width="163.0" height="31.46" fill="#ff9f00"/>
<rect x="1935.0" y="695.61" width="163.0" height="31.46" fill="#ff8f00"/>
<rect x="1935.0" y="664.75" width="163.0" height="31.46" fill="#ff8000"/>
<rect x="1935.0" y="633.89" width="163.0" height="31.46" fill="#ff7000"/>
<rect x="1935.0" y="603.03" width="163.0" height="31.46" fill="#ff6000"/>
<rect x="1935.0" y="572.17" width="163.0" height="31.46" fill="#ff5000"/>
<rect x="1935.0" y="541.31" width="163.0" height="31.46" fill="#ff4000"/>
<rect x="1935.0" y="510.45" width="163.0" height="31.46" fill="#ff3000"/>
<rect x="1935.0" y="479.59" width="163.0" height="31.46" fill="#ff2000"/>
<rect x="1935.0" y="448.73" width="163.0" height="31.46" fill="#ff1000"/>
<rect x="1935.0" y="417.88" width="163.0" height="31.46" fill="#ff0000"/>
<rect x="1935.0" y="387.02" width="163.0" height="31.46" fill="#ef0000"/>
<rect x="1935.0" y="356.16" width="163.0" height="31.46" fill="#df0000"/>
<rect x="1935.0" y="325.30" width="163.0" height="31.46" fill="#cf0000"/>
<rect x="1935.0" y="294.44" width="163.0" height="31.46" fill="#bf0000"/>
<rect x="1935.0" y="263.58" width="163.0" height="31.46" fill="#af0000"/>
<rect x="1935.0" y="232.72" width="163.0" height="31.46" fill="#9f0000"/>
<rect x="1935.0" y="201.86" width="163.0" height="31.46" fill="#8f0000"/>
<rect x="1935.0" y="171.00" width="163.0" height="31.46" fill="#800000"/>
</g>
<g filter="url(#b1)" stroke="#0a0a0a" fill="none">
<rect x="1935.0" y="171.0" width="163.0" height="1975.0" stroke-width="7.5"/>
<line x1="1935.0" y1="1922.0" x2="1962.0" y2="1922.0" stroke-width="7"/>
<line x1="2098.0" y1="1922.0" x2="2069.0" y2="1922.0" stroke-width="7"/>
<line x1="1988.0" y1="1922.0" x2="2058.0" y2="1922.0" stroke-dasharray="0.1 30" stroke-linecap="round" stroke-width="7.8"/>
<line x1="1935.0" y1="1705.5" x2="1962.0" y2="1705.5" stroke-width="7"/>
<line x1="2098.0" y1="1705.5" x2="2069.0" y2="1705.5" stroke-width="7"/>
<line x1="1988.0" y1="1705.5" x2="2058.0" y2="1705.5" stroke-dasharray="0.1 30" stroke-linecap="round" stroke-width="7.8"/>
<line x1="1935.0" y1="1488.0" x2="1962.0" y2="1488.0" stroke-width="7"/>
<line x1="2098.0" y1="1488.0" x2="2069.0" y2="1488.0" stroke-width="7"/>
<line x1="1988.0" y1="1488.0" x2="2058.0" y2="1488.0" stroke-dasharray="0.1 30" stroke-linecap="round" stroke-width="7.8"/>
<line x1="1935.0" y1="1263.0" x2="1962.0" y2="1263.0" stroke-width="7"/>
<line x1="2098.0" y1="1263.0" x2="2069.0" y2="1263.0" stroke-width="7"/>
<line x1="1988.0" y1="1263.0" x2="2058.0" y2="1263.0" stroke-dasharray="0.1 30" stroke-linecap="round" stroke-width="7.8"/>
<line x1="1935.0" y1="1046.0" x2="1962.0" y2="1046.0" stroke-width="7"/>
<line x1="2098.0" y1="1046.0" x2="2069.0" y2="1046.0" stroke-width="7"/>
<line x1="1988.0" y1="1046.0" x2="2058.0" y2="1046.0" stroke-dasharray="0.1 30" stroke-linecap="round" stroke-width="7.8"/>
<line x1="1935.0" y1="829.0" x2="1962.0" y2="829.0" stroke-width="7"/>
<line x1="2098.0" y1="829.0" x2="2069.0" y2="829.0" stroke-width="7"/>
<line x1="1988.0" y1="829.0" x2="2058.0" y2="829.0" stroke-dasharray="0.1 30" stroke-linecap="round" stroke-width="7.8"/>
<line x1="1935.0" y1="604.0" x2="1962.0" y2="604.0" stroke-width="7"/>
<line x1="2098.0" y1="604.0" x2="2069.0" y2="604.0" stroke-width="7"/>
<line x1="1988.0" y1="604.0" x2="2058.0" y2="604.0" stroke-dasharray="0.1 30" stroke-linecap="round" stroke-width="7.8"/>
<line x1="1935.0" y1="387.0" x2="1962.0" y2="387.0" stroke-width="7"/>
<line x1="2098.0" y1="387.0" x2="2069.0" y2="387.0" stroke-width="7"/>
<line x1="1988.0" y1="387.0" x2="2058.0" y2="387.0" stroke-dasharray="0.1 30" stroke-linecap="round" stroke-width="7.8"/>
</g>
<g filter="url(#b2)">
<text transform="translate(0,104) scale(1,1.0818)"><tspan x="418.5" textLength="378.7" lengthAdjust="spacingAndGlyphs">DropSonde</tspan> <tspan x="826.0" textLength="297.1" lengthAdjust="spacingAndGlyphs">Analysis</tspan> <tspan x="1156.0" textLength="323.1" lengthAdjust="spacingAndGlyphs">Gonzalo3</tspan> <tspan x="1513.5" textLength="173.0" lengthAdjust="spacingAndGlyphs">(m/s)</tspan></text>
<text transform="translate(182.4,198.0) scale(0.9047,1.1000)">1.5</text>
<text transform="translate(247.5,523.0) scale(0.5631,1.1000)">1</text>
<text transform="translate(177.0,852.0) scale(0.9532,1.1000)">0.5</text>
<text transform="translate(244.0,1183.0) scale(0.8604,1.1000)">0</text>
<text transform="translate(153.0,1510.0) scale(0.9434,1.1000)">-0.5</text>
<text transform="translate(219.8,1835.0) scale(0.7402,1.1000)">-1</text>
<text transform="translate(153.0,2169.0) scale(0.9536,1.1000)">-1.5</text>
<text transform="translate(267.0,2236.5) scale(0.8287,1.1000)">-1</text>
<text transform="translate(601.0,2236.5) scale(0.9325,1.1000)">-0.5</text>
<text transform="translate(1034.5,2236.5) scale(0.9122,1.1000)">0</text>
<text transform="translate(1372.5,2236.5) scale(0.9640,1.1000)">0.5</text>
<text transform="translate(1788.0,2236.5) scale(0.5968,1.1000)">1</text>
<text transform="translate(882.5,2338.0) scale(0.9419,1.0818)">Longitude</text>
<text transform="translate(2111.0,197.0) scale(0.9101,1.1000)">55</text>
<text transform="translate(2111.0,416.0) scale(0.9101,1.1000)">50</text>
<text transform="translate(2111.0,632.5) scale(0.9101,1.1000)">45</text>
<text transform="translate(2111.0,858.6) scale(0.9101,1.1000)">40</text>
<text transform="translate(2111.0,1073.3) scale(0.9101,1.1000)">35</text>
<text transform="translate(2111.0,1292.0) scale(0.9101,1.1000)">30</text>
<text transform="translate(2111.0,1515.4) scale(0.9101,1.1000)">25</text>
<text transform="translate(2111.0,1733.7) scale(0.9101,1.1000)">20</text>
<text transform="translate(2115.0,1952.4) scale(0.8652,1.1000)">15</text>
<text transform="translate(2115.0,2175.6) scale(0.8652,1.1000)">10</text>
<text transform="translate(95,1292.0) rotate(-90) scale(0.9361,1.1091)">Latitude</text>
</g>
<g filter="url(#b3)">
<text transform="translate(1955.8,120.7) scale(1.1196,1.0545)" style="fill:#000;stroke:none">m/s</text>
<text transform="translate(983,2453)" style="fill:#000;stroke:none"><tspan font-size="110" dy="5">(</tspan><tspan font-size="89.1" dy="-5" dx="-2">a</tspan><tspan font-size="110" dy="5" dx="-1">)</tspan></text>
</g>
</svg></body></html>
